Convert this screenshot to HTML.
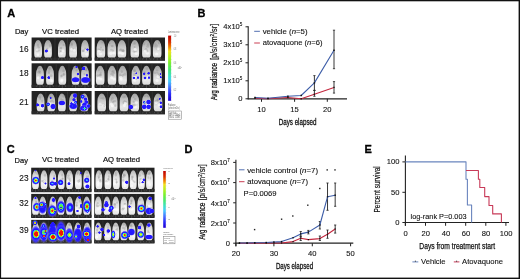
<!DOCTYPE html>
<html><head><meta charset="utf-8"><style>
html,body{margin:0;padding:0;background:#fff;}
svg{display:block;font-family:"Liberation Sans", sans-serif;will-change:transform;}
</style></head><body>
<svg xmlns="http://www.w3.org/2000/svg" width="520" height="279" viewBox="0 0 520 279">
<defs>
<linearGradient id="mg" x1="0" y1="0" x2="0" y2="1">
 <stop offset="0" stop-color="#a0a0a0"/><stop offset="0.35" stop-color="#c4c4c4"/><stop offset="0.75" stop-color="#e8e8e8"/><stop offset="1" stop-color="#dadada"/>
</linearGradient>
<linearGradient id="mg2" x1="0" y1="0" x2="0" y2="1">
 <stop offset="0" stop-color="#b4b4b4"/><stop offset="0.3" stop-color="#dcdcdc"/><stop offset="0.7" stop-color="#f3f3f3"/><stop offset="1" stop-color="#e6e6e6"/>
</linearGradient>
<linearGradient id="cb" x1="0" y1="0" x2="0" y2="1">
 <stop offset="0" stop-color="#c00000"/><stop offset="0.1" stop-color="#d83000"/><stop offset="0.18" stop-color="#f08800"/>
 <stop offset="0.24" stop-color="#f0e020"/><stop offset="0.32" stop-color="#b8f020"/><stop offset="0.42" stop-color="#78f030"/>
 <stop offset="0.52" stop-color="#48e870"/><stop offset="0.62" stop-color="#40e0c8"/><stop offset="0.7" stop-color="#48c8ff"/>
 <stop offset="0.8" stop-color="#4870ff"/><stop offset="0.9" stop-color="#2828f8"/><stop offset="1" stop-color="#2000d0"/>
</linearGradient>

<radialGradient id="hb"><stop offset="0.000" stop-color="#2418ff"/><stop offset="0.700" stop-color="#2418ff"/><stop offset="0.86" stop-color="#2418ff" stop-opacity="0.55"/><stop offset="1" stop-color="#2418ff" stop-opacity="0"/></radialGradient>
<radialGradient id="hc"><stop offset="0.000" stop-color="#30d8ff"/><stop offset="0.210" stop-color="#30c0ff"/><stop offset="0.420" stop-color="#2418ff"/><stop offset="0.700" stop-color="#2418ff"/><stop offset="0.86" stop-color="#2418ff" stop-opacity="0.55"/><stop offset="1" stop-color="#2418ff" stop-opacity="0"/></radialGradient>
<radialGradient id="hg"><stop offset="0.000" stop-color="#58f040"/><stop offset="0.245" stop-color="#30d8ff"/><stop offset="0.455" stop-color="#2418ff"/><stop offset="0.700" stop-color="#2418ff"/><stop offset="0.86" stop-color="#2418ff" stop-opacity="0.55"/><stop offset="1" stop-color="#2418ff" stop-opacity="0"/></radialGradient>
<radialGradient id="hG"><stop offset="0.000" stop-color="#58f040"/><stop offset="0.350" stop-color="#58f040"/><stop offset="0.476" stop-color="#30d8ff"/><stop offset="0.595" stop-color="#2418ff"/><stop offset="0.700" stop-color="#2418ff"/><stop offset="0.86" stop-color="#2418ff" stop-opacity="0.55"/><stop offset="1" stop-color="#2418ff" stop-opacity="0"/></radialGradient>
<radialGradient id="hy"><stop offset="0.000" stop-color="#fff020"/><stop offset="0.196" stop-color="#e0f020"/><stop offset="0.350" stop-color="#58f040"/><stop offset="0.476" stop-color="#30d8ff"/><stop offset="0.595" stop-color="#2418ff"/><stop offset="0.700" stop-color="#2418ff"/><stop offset="0.86" stop-color="#2418ff" stop-opacity="0.55"/><stop offset="1" stop-color="#2418ff" stop-opacity="0"/></radialGradient>
<radialGradient id="hr"><stop offset="0.000" stop-color="#f01808"/><stop offset="0.154" stop-color="#f83010"/><stop offset="0.280" stop-color="#fff020"/><stop offset="0.385" stop-color="#58f040"/><stop offset="0.490" stop-color="#30d8ff"/><stop offset="0.595" stop-color="#2418ff"/><stop offset="0.700" stop-color="#2418ff"/><stop offset="0.86" stop-color="#2418ff" stop-opacity="0.55"/><stop offset="1" stop-color="#2418ff" stop-opacity="0"/></radialGradient>
<radialGradient id="hR"><stop offset="0.000" stop-color="#f01808"/><stop offset="0.336" stop-color="#f01808"/><stop offset="0.420" stop-color="#fff020"/><stop offset="0.504" stop-color="#58f040"/><stop offset="0.574" stop-color="#30d8ff"/><stop offset="0.644" stop-color="#2418ff"/><stop offset="0.700" stop-color="#2418ff"/><stop offset="0.86" stop-color="#2418ff" stop-opacity="0.55"/><stop offset="1" stop-color="#2418ff" stop-opacity="0"/></radialGradient>
<radialGradient id="hh"><stop offset="0" stop-color="#a8a0ff" stop-opacity="0.55"/><stop offset="0.6" stop-color="#b0a8ff" stop-opacity="0.45"/><stop offset="1" stop-color="#c0c0ff" stop-opacity="0"/></radialGradient>
<filter id="bl3" x="-50%" y="-50%" width="200%" height="200%"><feGaussianBlur stdDeviation="0.3"/></filter>
<filter id="bl5" x="-20%" y="-20%" width="140%" height="140%"><feGaussianBlur stdDeviation="0.6"/></filter>
<filter id="bl4" x="-80%" y="-80%" width="260%" height="260%"><feGaussianBlur stdDeviation="0.55"/></filter>
</defs>
<rect x="0" y="0" width="520" height="279" fill="#fff"/>
<rect x="31.6" y="37.5" width="60.00" height="23.30" fill="#222"/>
<rect x="31.6" y="57.60" width="60.00" height="2.6" fill="#2c2c2c" filter="url(#bl5)"/>
<line x1="43.05" y1="38.00" x2="43.05" y2="60.30" stroke="#3a3a3a" stroke-width="0.6"/>
<line x1="54.95" y1="38.00" x2="54.95" y2="60.30" stroke="#3a3a3a" stroke-width="0.6"/>
<line x1="67.50" y1="38.00" x2="67.50" y2="60.30" stroke="#3a3a3a" stroke-width="0.6"/>
<line x1="79.05" y1="38.00" x2="79.05" y2="60.30" stroke="#3a3a3a" stroke-width="0.6"/>
<path d="M38.10,40.00 Q39.82,40.00 40.44,41.76 Q42.00,44.22 42.00,47.39 L42.00,53.73 Q42.00,57.60 40.05,57.60 L36.15,57.60 Q34.20,57.60 34.20,53.73 L34.20,47.39 Q34.20,44.22 35.76,41.76 Q36.38,40.00 38.10,40.00 Z" fill="url(#mg)" filter="url(#bl5)"/>
<ellipse cx="38.70" cy="50.62" rx="1.21" ry="1.03" fill="#888" opacity="0.3" filter="url(#bl5)"/>
<ellipse cx="37.07" cy="50.65" rx="1.01" ry="1.54" fill="#888" opacity="0.3" filter="url(#bl5)"/>
<ellipse cx="37.97" cy="45.13" rx="1.17" ry="1.52" fill="#888" opacity="0.3" filter="url(#bl5)"/>
<ellipse cx="38.76" cy="47.30" rx="1.32" ry="1.15" fill="#888" opacity="0.3" filter="url(#bl5)"/>
<ellipse cx="37.69" cy="50.25" rx="1.23" ry="0.99" fill="#888" opacity="0.3" filter="url(#bl5)"/>
<ellipse cx="37.96" cy="54.79" rx="1.40" ry="1.41" fill="#fff" opacity="0.6" filter="url(#bl5)"/>
<ellipse cx="37.22" cy="50.11" rx="1.40" ry="1.41" fill="#fff" opacity="0.6" filter="url(#bl5)"/>
<path d="M35.37,57.90 L34.59,59.80 M40.83,57.90 L41.61,59.80 M38.10,57.60 L38.10,60.80" stroke="#5a5a5a" stroke-width="0.6" fill="none" filter="url(#bl4)"/>
<path d="M48.00,40.00 Q49.72,40.00 50.34,41.76 Q51.90,44.22 51.90,47.39 L51.90,53.73 Q51.90,57.60 49.95,57.60 L46.05,57.60 Q44.10,57.60 44.10,53.73 L44.10,47.39 Q44.10,44.22 45.66,41.76 Q46.28,40.00 48.00,40.00 Z" fill="url(#mg)" filter="url(#bl5)"/>
<ellipse cx="49.86" cy="45.71" rx="1.07" ry="1.45" fill="#888" opacity="0.3" filter="url(#bl5)"/>
<ellipse cx="47.11" cy="49.15" rx="0.97" ry="1.32" fill="#888" opacity="0.3" filter="url(#bl5)"/>
<ellipse cx="45.76" cy="51.84" rx="1.35" ry="1.16" fill="#888" opacity="0.3" filter="url(#bl5)"/>
<ellipse cx="49.05" cy="49.40" rx="0.85" ry="1.07" fill="#888" opacity="0.3" filter="url(#bl5)"/>
<ellipse cx="48.19" cy="52.10" rx="1.13" ry="1.13" fill="#888" opacity="0.3" filter="url(#bl5)"/>
<ellipse cx="48.46" cy="52.08" rx="1.40" ry="1.41" fill="#fff" opacity="0.6" filter="url(#bl5)"/>
<ellipse cx="49.49" cy="49.71" rx="1.40" ry="1.41" fill="#fff" opacity="0.6" filter="url(#bl5)"/>
<path d="M45.27,57.90 L44.49,59.80 M50.73,57.90 L51.51,59.80 M48.00,57.60 L48.00,60.80" stroke="#5a5a5a" stroke-width="0.6" fill="none" filter="url(#bl4)"/>
<path d="M61.90,40.00 Q63.62,40.00 64.24,41.76 Q65.80,44.22 65.80,47.39 L65.80,53.73 Q65.80,57.60 63.85,57.60 L59.95,57.60 Q58.00,57.60 58.00,53.73 L58.00,47.39 Q58.00,44.22 59.56,41.76 Q60.18,40.00 61.90,40.00 Z" fill="url(#mg)" filter="url(#bl5)"/>
<ellipse cx="60.74" cy="52.26" rx="1.15" ry="1.17" fill="#888" opacity="0.3" filter="url(#bl5)"/>
<ellipse cx="60.50" cy="50.97" rx="1.12" ry="1.02" fill="#888" opacity="0.3" filter="url(#bl5)"/>
<ellipse cx="61.06" cy="47.64" rx="1.23" ry="1.01" fill="#888" opacity="0.3" filter="url(#bl5)"/>
<ellipse cx="63.61" cy="44.92" rx="1.10" ry="1.04" fill="#888" opacity="0.3" filter="url(#bl5)"/>
<ellipse cx="60.69" cy="48.40" rx="1.27" ry="0.91" fill="#888" opacity="0.3" filter="url(#bl5)"/>
<ellipse cx="63.08" cy="50.96" rx="1.40" ry="1.41" fill="#fff" opacity="0.6" filter="url(#bl5)"/>
<ellipse cx="61.33" cy="53.27" rx="1.40" ry="1.41" fill="#fff" opacity="0.6" filter="url(#bl5)"/>
<path d="M59.17,57.90 L58.39,59.80 M64.63,57.90 L65.41,59.80 M61.90,57.60 L61.90,60.80" stroke="#5a5a5a" stroke-width="0.6" fill="none" filter="url(#bl4)"/>
<path d="M73.10,40.00 Q74.82,40.00 75.44,41.76 Q77.00,44.22 77.00,47.39 L77.00,53.73 Q77.00,57.60 75.05,57.60 L71.15,57.60 Q69.20,57.60 69.20,53.73 L69.20,47.39 Q69.20,44.22 70.76,41.76 Q71.38,40.00 73.10,40.00 Z" fill="url(#mg)" filter="url(#bl5)"/>
<ellipse cx="71.54" cy="43.91" rx="1.10" ry="1.10" fill="#888" opacity="0.3" filter="url(#bl5)"/>
<ellipse cx="71.03" cy="42.65" rx="1.32" ry="0.97" fill="#888" opacity="0.3" filter="url(#bl5)"/>
<ellipse cx="71.71" cy="45.13" rx="1.24" ry="1.40" fill="#888" opacity="0.3" filter="url(#bl5)"/>
<ellipse cx="72.34" cy="43.72" rx="0.91" ry="1.08" fill="#888" opacity="0.3" filter="url(#bl5)"/>
<ellipse cx="72.71" cy="48.72" rx="0.98" ry="1.05" fill="#888" opacity="0.3" filter="url(#bl5)"/>
<ellipse cx="74.39" cy="50.39" rx="1.40" ry="1.41" fill="#fff" opacity="0.6" filter="url(#bl5)"/>
<ellipse cx="71.60" cy="49.38" rx="1.40" ry="1.41" fill="#fff" opacity="0.6" filter="url(#bl5)"/>
<path d="M70.37,57.90 L69.59,59.80 M75.83,57.90 L76.61,59.80 M73.10,57.60 L73.10,60.80" stroke="#5a5a5a" stroke-width="0.6" fill="none" filter="url(#bl4)"/>
<path d="M85.00,40.00 Q86.72,40.00 87.34,41.76 Q88.90,44.22 88.90,47.39 L88.90,53.73 Q88.90,57.60 86.95,57.60 L83.05,57.60 Q81.10,57.60 81.10,53.73 L81.10,47.39 Q81.10,44.22 82.66,41.76 Q83.28,40.00 85.00,40.00 Z" fill="url(#mg)" filter="url(#bl5)"/>
<ellipse cx="86.02" cy="49.13" rx="0.89" ry="1.49" fill="#888" opacity="0.3" filter="url(#bl5)"/>
<ellipse cx="85.08" cy="48.81" rx="0.83" ry="1.26" fill="#888" opacity="0.3" filter="url(#bl5)"/>
<ellipse cx="87.02" cy="50.60" rx="1.08" ry="1.44" fill="#888" opacity="0.3" filter="url(#bl5)"/>
<ellipse cx="82.82" cy="51.05" rx="1.02" ry="1.18" fill="#888" opacity="0.3" filter="url(#bl5)"/>
<ellipse cx="83.44" cy="50.63" rx="1.21" ry="1.47" fill="#888" opacity="0.3" filter="url(#bl5)"/>
<ellipse cx="86.28" cy="50.41" rx="1.40" ry="1.41" fill="#fff" opacity="0.6" filter="url(#bl5)"/>
<ellipse cx="86.77" cy="54.43" rx="1.40" ry="1.41" fill="#fff" opacity="0.6" filter="url(#bl5)"/>
<path d="M82.27,57.90 L81.49,59.80 M87.73,57.90 L88.51,59.80 M85.00,57.60 L85.00,60.80" stroke="#5a5a5a" stroke-width="0.6" fill="none" filter="url(#bl4)"/>
<rect x="94.7" y="37.5" width="70.30" height="23.30" fill="#222"/>
<rect x="94.7" y="57.60" width="70.30" height="2.6" fill="#2c2c2c" filter="url(#bl5)"/>
<line x1="106.35" y1="38.00" x2="106.35" y2="60.30" stroke="#3a3a3a" stroke-width="0.6"/>
<line x1="116.85" y1="38.00" x2="116.85" y2="60.30" stroke="#3a3a3a" stroke-width="0.6"/>
<line x1="128.35" y1="38.00" x2="128.35" y2="60.30" stroke="#3a3a3a" stroke-width="0.6"/>
<line x1="140.60" y1="38.00" x2="140.60" y2="60.30" stroke="#3a3a3a" stroke-width="0.6"/>
<line x1="151.80" y1="38.00" x2="151.80" y2="60.30" stroke="#3a3a3a" stroke-width="0.6"/>
<path d="M100.90,40.00 Q102.79,40.00 103.48,41.76 Q105.20,44.22 105.20,47.39 L105.20,53.73 Q105.20,57.60 103.05,57.60 L98.75,57.60 Q96.60,57.60 96.60,53.73 L96.60,47.39 Q96.60,44.22 98.32,41.76 Q99.01,40.00 100.90,40.00 Z" fill="url(#mg)" filter="url(#bl5)"/>
<ellipse cx="102.85" cy="49.97" rx="1.09" ry="1.23" fill="#888" opacity="0.3" filter="url(#bl5)"/>
<ellipse cx="98.43" cy="49.22" rx="1.27" ry="1.06" fill="#888" opacity="0.3" filter="url(#bl5)"/>
<ellipse cx="100.36" cy="49.62" rx="1.31" ry="1.13" fill="#888" opacity="0.3" filter="url(#bl5)"/>
<ellipse cx="102.81" cy="42.25" rx="1.48" ry="1.23" fill="#888" opacity="0.3" filter="url(#bl5)"/>
<ellipse cx="101.00" cy="47.43" rx="0.88" ry="0.97" fill="#888" opacity="0.3" filter="url(#bl5)"/>
<ellipse cx="99.01" cy="51.32" rx="1.55" ry="1.41" fill="#fff" opacity="0.6" filter="url(#bl5)"/>
<ellipse cx="100.54" cy="54.06" rx="1.55" ry="1.41" fill="#fff" opacity="0.6" filter="url(#bl5)"/>
<path d="M97.89,57.90 L97.03,59.80 M103.91,57.90 L104.77,59.80 M100.90,57.60 L100.90,60.80" stroke="#5a5a5a" stroke-width="0.6" fill="none" filter="url(#bl4)"/>
<path d="M111.80,40.00 Q113.69,40.00 114.38,41.76 Q116.10,44.22 116.10,47.39 L116.10,53.73 Q116.10,57.60 113.95,57.60 L109.65,57.60 Q107.50,57.60 107.50,53.73 L107.50,47.39 Q107.50,44.22 109.22,41.76 Q109.91,40.00 111.80,40.00 Z" fill="url(#mg)" filter="url(#bl5)"/>
<ellipse cx="109.49" cy="43.40" rx="1.04" ry="0.92" fill="#888" opacity="0.3" filter="url(#bl5)"/>
<ellipse cx="112.05" cy="45.65" rx="1.58" ry="0.97" fill="#888" opacity="0.3" filter="url(#bl5)"/>
<ellipse cx="112.31" cy="46.31" rx="1.35" ry="0.90" fill="#888" opacity="0.3" filter="url(#bl5)"/>
<ellipse cx="113.11" cy="50.82" rx="0.91" ry="1.24" fill="#888" opacity="0.3" filter="url(#bl5)"/>
<ellipse cx="111.39" cy="49.70" rx="1.34" ry="1.05" fill="#888" opacity="0.3" filter="url(#bl5)"/>
<ellipse cx="113.77" cy="52.98" rx="1.55" ry="1.41" fill="#fff" opacity="0.6" filter="url(#bl5)"/>
<ellipse cx="110.74" cy="53.52" rx="1.55" ry="1.41" fill="#fff" opacity="0.6" filter="url(#bl5)"/>
<path d="M108.79,57.90 L107.93,59.80 M114.81,57.90 L115.67,59.80 M111.80,57.60 L111.80,60.80" stroke="#5a5a5a" stroke-width="0.6" fill="none" filter="url(#bl4)"/>
<path d="M121.90,40.00 Q123.79,40.00 124.48,41.76 Q126.20,44.22 126.20,47.39 L126.20,53.73 Q126.20,57.60 124.05,57.60 L119.75,57.60 Q117.60,57.60 117.60,53.73 L117.60,47.39 Q117.60,44.22 119.32,41.76 Q120.01,40.00 121.90,40.00 Z" fill="url(#mg)" filter="url(#bl5)"/>
<ellipse cx="120.15" cy="50.37" rx="1.17" ry="1.48" fill="#888" opacity="0.3" filter="url(#bl5)"/>
<ellipse cx="123.42" cy="50.83" rx="1.47" ry="1.32" fill="#888" opacity="0.3" filter="url(#bl5)"/>
<ellipse cx="122.68" cy="50.25" rx="1.58" ry="1.43" fill="#888" opacity="0.3" filter="url(#bl5)"/>
<ellipse cx="120.85" cy="49.47" rx="1.21" ry="1.12" fill="#888" opacity="0.3" filter="url(#bl5)"/>
<ellipse cx="122.80" cy="51.05" rx="1.55" ry="1.20" fill="#888" opacity="0.3" filter="url(#bl5)"/>
<ellipse cx="122.49" cy="53.78" rx="1.55" ry="1.41" fill="#fff" opacity="0.6" filter="url(#bl5)"/>
<ellipse cx="119.97" cy="52.94" rx="1.55" ry="1.41" fill="#fff" opacity="0.6" filter="url(#bl5)"/>
<path d="M118.89,57.90 L118.03,59.80 M124.91,57.90 L125.77,59.80 M121.90,57.60 L121.90,60.80" stroke="#5a5a5a" stroke-width="0.6" fill="none" filter="url(#bl4)"/>
<path d="M134.80,40.00 Q136.69,40.00 137.38,41.76 Q139.10,44.22 139.10,47.39 L139.10,53.73 Q139.10,57.60 136.95,57.60 L132.65,57.60 Q130.50,57.60 130.50,53.73 L130.50,47.39 Q130.50,44.22 132.22,41.76 Q132.91,40.00 134.80,40.00 Z" fill="url(#mg)" filter="url(#bl5)"/>
<ellipse cx="134.49" cy="43.77" rx="1.46" ry="1.07" fill="#888" opacity="0.3" filter="url(#bl5)"/>
<ellipse cx="133.95" cy="51.56" rx="1.50" ry="1.13" fill="#888" opacity="0.3" filter="url(#bl5)"/>
<ellipse cx="135.68" cy="51.78" rx="1.59" ry="0.89" fill="#888" opacity="0.3" filter="url(#bl5)"/>
<ellipse cx="134.72" cy="42.64" rx="0.93" ry="0.93" fill="#888" opacity="0.3" filter="url(#bl5)"/>
<ellipse cx="134.55" cy="47.05" rx="1.01" ry="1.00" fill="#888" opacity="0.3" filter="url(#bl5)"/>
<ellipse cx="136.23" cy="53.70" rx="1.55" ry="1.41" fill="#fff" opacity="0.6" filter="url(#bl5)"/>
<ellipse cx="135.18" cy="49.45" rx="1.55" ry="1.41" fill="#fff" opacity="0.6" filter="url(#bl5)"/>
<path d="M131.79,57.90 L130.93,59.80 M137.81,57.90 L138.67,59.80 M134.80,57.60 L134.80,60.80" stroke="#5a5a5a" stroke-width="0.6" fill="none" filter="url(#bl4)"/>
<path d="M146.40,40.00 Q148.29,40.00 148.98,41.76 Q150.70,44.22 150.70,47.39 L150.70,53.73 Q150.70,57.60 148.55,57.60 L144.25,57.60 Q142.10,57.60 142.10,53.73 L142.10,47.39 Q142.10,44.22 143.82,41.76 Q144.51,40.00 146.40,40.00 Z" fill="url(#mg)" filter="url(#bl5)"/>
<ellipse cx="147.61" cy="46.49" rx="1.56" ry="1.26" fill="#888" opacity="0.3" filter="url(#bl5)"/>
<ellipse cx="146.01" cy="49.29" rx="1.42" ry="1.55" fill="#888" opacity="0.3" filter="url(#bl5)"/>
<ellipse cx="148.31" cy="44.61" rx="1.55" ry="1.24" fill="#888" opacity="0.3" filter="url(#bl5)"/>
<ellipse cx="147.22" cy="51.41" rx="1.08" ry="1.55" fill="#888" opacity="0.3" filter="url(#bl5)"/>
<ellipse cx="144.10" cy="43.79" rx="1.15" ry="1.55" fill="#888" opacity="0.3" filter="url(#bl5)"/>
<ellipse cx="147.34" cy="53.28" rx="1.55" ry="1.41" fill="#fff" opacity="0.6" filter="url(#bl5)"/>
<ellipse cx="145.37" cy="51.23" rx="1.55" ry="1.41" fill="#fff" opacity="0.6" filter="url(#bl5)"/>
<path d="M143.39,57.90 L142.53,59.80 M149.41,57.90 L150.27,59.80 M146.40,57.60 L146.40,60.80" stroke="#5a5a5a" stroke-width="0.6" fill="none" filter="url(#bl4)"/>
<path d="M157.20,40.00 Q159.09,40.00 159.78,41.76 Q161.50,44.22 161.50,47.39 L161.50,53.73 Q161.50,57.60 159.35,57.60 L155.05,57.60 Q152.90,57.60 152.90,53.73 L152.90,47.39 Q152.90,44.22 154.62,41.76 Q155.31,40.00 157.20,40.00 Z" fill="url(#mg)" filter="url(#bl5)"/>
<ellipse cx="156.98" cy="48.49" rx="1.18" ry="1.26" fill="#888" opacity="0.3" filter="url(#bl5)"/>
<ellipse cx="155.12" cy="44.22" rx="1.55" ry="1.33" fill="#888" opacity="0.3" filter="url(#bl5)"/>
<ellipse cx="156.74" cy="45.80" rx="1.34" ry="1.25" fill="#888" opacity="0.3" filter="url(#bl5)"/>
<ellipse cx="158.81" cy="42.97" rx="0.88" ry="1.25" fill="#888" opacity="0.3" filter="url(#bl5)"/>
<ellipse cx="154.70" cy="46.39" rx="1.67" ry="1.17" fill="#888" opacity="0.3" filter="url(#bl5)"/>
<ellipse cx="158.09" cy="48.81" rx="1.55" ry="1.41" fill="#fff" opacity="0.6" filter="url(#bl5)"/>
<ellipse cx="156.66" cy="54.21" rx="1.55" ry="1.41" fill="#fff" opacity="0.6" filter="url(#bl5)"/>
<path d="M154.19,57.90 L153.33,59.80 M160.21,57.90 L161.07,59.80 M157.20,57.60 L157.20,60.80" stroke="#5a5a5a" stroke-width="0.6" fill="none" filter="url(#bl4)"/>
<rect x="31.6" y="63.3" width="60.00" height="24.70" fill="#222"/>
<rect x="31.6" y="84.80" width="60.00" height="2.6" fill="#2c2c2c" filter="url(#bl5)"/>
<line x1="45.00" y1="63.80" x2="45.00" y2="87.50" stroke="#3a3a3a" stroke-width="0.6"/>
<line x1="56.15" y1="63.80" x2="56.15" y2="87.50" stroke="#3a3a3a" stroke-width="0.6"/>
<line x1="68.95" y1="63.80" x2="68.95" y2="87.50" stroke="#3a3a3a" stroke-width="0.6"/>
<line x1="80.30" y1="63.80" x2="80.30" y2="87.50" stroke="#3a3a3a" stroke-width="0.6"/>
<path d="M40.00,65.80 Q41.72,65.80 42.34,67.70 Q43.90,70.36 43.90,73.78 L43.90,80.62 Q43.90,84.80 41.95,84.80 L38.05,84.80 Q36.10,84.80 36.10,80.62 L36.10,73.78 Q36.10,70.36 37.66,67.70 Q38.28,65.80 40.00,65.80 Z" fill="url(#mg)" filter="url(#bl5)"/>
<ellipse cx="40.07" cy="72.53" rx="1.23" ry="1.42" fill="#888" opacity="0.3" filter="url(#bl5)"/>
<ellipse cx="41.51" cy="78.98" rx="1.07" ry="1.60" fill="#888" opacity="0.3" filter="url(#bl5)"/>
<ellipse cx="39.45" cy="71.14" rx="1.28" ry="1.51" fill="#888" opacity="0.3" filter="url(#bl5)"/>
<ellipse cx="38.38" cy="68.18" rx="1.19" ry="1.27" fill="#888" opacity="0.3" filter="url(#bl5)"/>
<ellipse cx="38.53" cy="72.20" rx="1.39" ry="1.43" fill="#888" opacity="0.3" filter="url(#bl5)"/>
<ellipse cx="41.78" cy="79.62" rx="1.40" ry="1.52" fill="#fff" opacity="0.6" filter="url(#bl5)"/>
<ellipse cx="38.18" cy="77.83" rx="1.40" ry="1.52" fill="#fff" opacity="0.6" filter="url(#bl5)"/>
<path d="M37.27,85.10 L36.49,87.00 M42.73,85.10 L43.51,87.00 M40.00,84.80 L40.00,88.00" stroke="#5a5a5a" stroke-width="0.6" fill="none" filter="url(#bl4)"/>
<path d="M50.00,65.80 Q51.72,65.80 52.34,67.70 Q53.90,70.36 53.90,73.78 L53.90,80.62 Q53.90,84.80 51.95,84.80 L48.05,84.80 Q46.10,84.80 46.10,80.62 L46.10,73.78 Q46.10,70.36 47.66,67.70 Q48.28,65.80 50.00,65.80 Z" fill="url(#mg)" filter="url(#bl5)"/>
<ellipse cx="48.93" cy="71.38" rx="1.18" ry="1.31" fill="#888" opacity="0.3" filter="url(#bl5)"/>
<ellipse cx="49.16" cy="68.22" rx="1.20" ry="1.64" fill="#888" opacity="0.3" filter="url(#bl5)"/>
<ellipse cx="48.85" cy="73.14" rx="1.24" ry="1.10" fill="#888" opacity="0.3" filter="url(#bl5)"/>
<ellipse cx="49.73" cy="69.09" rx="1.08" ry="1.48" fill="#888" opacity="0.3" filter="url(#bl5)"/>
<ellipse cx="51.09" cy="75.65" rx="1.54" ry="1.52" fill="#888" opacity="0.3" filter="url(#bl5)"/>
<ellipse cx="51.95" cy="80.96" rx="1.40" ry="1.52" fill="#fff" opacity="0.6" filter="url(#bl5)"/>
<ellipse cx="51.18" cy="80.55" rx="1.40" ry="1.52" fill="#fff" opacity="0.6" filter="url(#bl5)"/>
<path d="M47.27,85.10 L46.49,87.00 M52.73,85.10 L53.51,87.00 M50.00,84.80 L50.00,88.00" stroke="#5a5a5a" stroke-width="0.6" fill="none" filter="url(#bl4)"/>
<path d="M62.30,65.80 Q64.02,65.80 64.64,67.70 Q66.20,70.36 66.20,73.78 L66.20,80.62 Q66.20,84.80 64.25,84.80 L60.35,84.80 Q58.40,84.80 58.40,80.62 L58.40,73.78 Q58.40,70.36 59.96,67.70 Q60.58,65.80 62.30,65.80 Z" fill="url(#mg)" filter="url(#bl5)"/>
<ellipse cx="62.05" cy="75.69" rx="1.13" ry="1.17" fill="#888" opacity="0.3" filter="url(#bl5)"/>
<ellipse cx="63.95" cy="74.46" rx="1.53" ry="1.11" fill="#888" opacity="0.3" filter="url(#bl5)"/>
<ellipse cx="63.68" cy="74.48" rx="0.78" ry="1.63" fill="#888" opacity="0.3" filter="url(#bl5)"/>
<ellipse cx="63.44" cy="70.77" rx="1.19" ry="1.53" fill="#888" opacity="0.3" filter="url(#bl5)"/>
<ellipse cx="61.07" cy="76.04" rx="1.07" ry="1.52" fill="#888" opacity="0.3" filter="url(#bl5)"/>
<ellipse cx="61.97" cy="79.94" rx="1.40" ry="1.52" fill="#fff" opacity="0.6" filter="url(#bl5)"/>
<ellipse cx="61.49" cy="81.12" rx="1.40" ry="1.52" fill="#fff" opacity="0.6" filter="url(#bl5)"/>
<path d="M59.57,85.10 L58.79,87.00 M65.03,85.10 L65.81,87.00 M62.30,84.80 L62.30,88.00" stroke="#5a5a5a" stroke-width="0.6" fill="none" filter="url(#bl4)"/>
<path d="M75.60,65.80 Q77.32,65.80 77.94,67.70 Q79.50,70.36 79.50,73.78 L79.50,80.62 Q79.50,84.80 77.55,84.80 L73.65,84.80 Q71.70,84.80 71.70,80.62 L71.70,73.78 Q71.70,70.36 73.26,67.70 Q73.88,65.80 75.60,65.80 Z" fill="url(#mg)" filter="url(#bl5)"/>
<ellipse cx="76.46" cy="70.16" rx="1.02" ry="1.23" fill="#888" opacity="0.3" filter="url(#bl5)"/>
<ellipse cx="75.14" cy="78.17" rx="1.45" ry="1.57" fill="#888" opacity="0.3" filter="url(#bl5)"/>
<ellipse cx="74.20" cy="67.83" rx="1.51" ry="1.29" fill="#888" opacity="0.3" filter="url(#bl5)"/>
<ellipse cx="74.50" cy="78.67" rx="0.89" ry="1.63" fill="#888" opacity="0.3" filter="url(#bl5)"/>
<ellipse cx="77.44" cy="74.35" rx="0.80" ry="1.57" fill="#888" opacity="0.3" filter="url(#bl5)"/>
<ellipse cx="77.06" cy="81.61" rx="1.40" ry="1.52" fill="#fff" opacity="0.6" filter="url(#bl5)"/>
<ellipse cx="76.59" cy="81.46" rx="1.40" ry="1.52" fill="#fff" opacity="0.6" filter="url(#bl5)"/>
<path d="M72.87,85.10 L72.09,87.00 M78.33,85.10 L79.11,87.00 M75.60,84.80 L75.60,88.00" stroke="#5a5a5a" stroke-width="0.6" fill="none" filter="url(#bl4)"/>
<path d="M85.00,65.80 Q86.72,65.80 87.34,67.70 Q88.90,70.36 88.90,73.78 L88.90,80.62 Q88.90,84.80 86.95,84.80 L83.05,84.80 Q81.10,84.80 81.10,80.62 L81.10,73.78 Q81.10,70.36 82.66,67.70 Q83.28,65.80 85.00,65.80 Z" fill="url(#mg)" filter="url(#bl5)"/>
<ellipse cx="85.65" cy="69.21" rx="1.35" ry="0.98" fill="#888" opacity="0.3" filter="url(#bl5)"/>
<ellipse cx="86.96" cy="74.56" rx="1.12" ry="1.05" fill="#888" opacity="0.3" filter="url(#bl5)"/>
<ellipse cx="86.58" cy="70.55" rx="0.99" ry="1.01" fill="#888" opacity="0.3" filter="url(#bl5)"/>
<ellipse cx="85.71" cy="69.46" rx="1.39" ry="1.48" fill="#888" opacity="0.3" filter="url(#bl5)"/>
<ellipse cx="84.32" cy="74.12" rx="0.95" ry="1.16" fill="#888" opacity="0.3" filter="url(#bl5)"/>
<ellipse cx="85.74" cy="79.82" rx="1.40" ry="1.52" fill="#fff" opacity="0.6" filter="url(#bl5)"/>
<ellipse cx="85.62" cy="77.07" rx="1.40" ry="1.52" fill="#fff" opacity="0.6" filter="url(#bl5)"/>
<path d="M82.27,85.10 L81.49,87.00 M87.73,85.10 L88.51,87.00 M85.00,84.80 L85.00,88.00" stroke="#5a5a5a" stroke-width="0.6" fill="none" filter="url(#bl4)"/>
<rect x="94.7" y="63.3" width="70.30" height="24.70" fill="#222"/>
<rect x="94.7" y="84.80" width="70.30" height="2.6" fill="#2c2c2c" filter="url(#bl5)"/>
<line x1="106.10" y1="63.80" x2="106.10" y2="87.50" stroke="#3a3a3a" stroke-width="0.6"/>
<line x1="117.30" y1="63.80" x2="117.30" y2="87.50" stroke="#3a3a3a" stroke-width="0.6"/>
<line x1="129.25" y1="63.80" x2="129.25" y2="87.50" stroke="#3a3a3a" stroke-width="0.6"/>
<line x1="141.15" y1="63.80" x2="141.15" y2="87.50" stroke="#3a3a3a" stroke-width="0.6"/>
<line x1="151.95" y1="63.80" x2="151.95" y2="87.50" stroke="#3a3a3a" stroke-width="0.6"/>
<path d="M100.20,65.80 Q102.09,65.80 102.78,67.70 Q104.50,70.36 104.50,73.78 L104.50,80.62 Q104.50,84.80 102.35,84.80 L98.05,84.80 Q95.90,84.80 95.90,80.62 L95.90,73.78 Q95.90,70.36 97.62,67.70 Q98.31,65.80 100.20,65.80 Z" fill="url(#mg)" filter="url(#bl5)"/>
<ellipse cx="100.43" cy="74.96" rx="1.39" ry="1.11" fill="#888" opacity="0.3" filter="url(#bl5)"/>
<ellipse cx="98.90" cy="69.70" rx="0.90" ry="1.52" fill="#888" opacity="0.3" filter="url(#bl5)"/>
<ellipse cx="100.73" cy="73.10" rx="1.07" ry="1.58" fill="#888" opacity="0.3" filter="url(#bl5)"/>
<ellipse cx="97.67" cy="75.47" rx="1.62" ry="1.20" fill="#888" opacity="0.3" filter="url(#bl5)"/>
<ellipse cx="100.13" cy="75.18" rx="1.48" ry="1.37" fill="#888" opacity="0.3" filter="url(#bl5)"/>
<ellipse cx="100.87" cy="79.01" rx="1.55" ry="1.52" fill="#fff" opacity="0.6" filter="url(#bl5)"/>
<ellipse cx="98.55" cy="78.18" rx="1.55" ry="1.52" fill="#fff" opacity="0.6" filter="url(#bl5)"/>
<path d="M97.19,85.10 L96.33,87.00 M103.21,85.10 L104.07,87.00 M100.20,84.80 L100.20,88.00" stroke="#5a5a5a" stroke-width="0.6" fill="none" filter="url(#bl4)"/>
<path d="M112.00,65.80 Q113.89,65.80 114.58,67.70 Q116.30,70.36 116.30,73.78 L116.30,80.62 Q116.30,84.80 114.15,84.80 L109.85,84.80 Q107.70,84.80 107.70,80.62 L107.70,73.78 Q107.70,70.36 109.42,67.70 Q110.11,65.80 112.00,65.80 Z" fill="url(#mg)" filter="url(#bl5)"/>
<ellipse cx="114.07" cy="72.99" rx="1.24" ry="1.02" fill="#888" opacity="0.3" filter="url(#bl5)"/>
<ellipse cx="111.36" cy="74.13" rx="1.23" ry="1.09" fill="#888" opacity="0.3" filter="url(#bl5)"/>
<ellipse cx="113.28" cy="71.25" rx="1.31" ry="1.24" fill="#888" opacity="0.3" filter="url(#bl5)"/>
<ellipse cx="112.42" cy="72.07" rx="1.35" ry="1.62" fill="#888" opacity="0.3" filter="url(#bl5)"/>
<ellipse cx="112.92" cy="74.98" rx="1.18" ry="1.45" fill="#888" opacity="0.3" filter="url(#bl5)"/>
<ellipse cx="114.06" cy="79.09" rx="1.55" ry="1.52" fill="#fff" opacity="0.6" filter="url(#bl5)"/>
<ellipse cx="111.71" cy="77.83" rx="1.55" ry="1.52" fill="#fff" opacity="0.6" filter="url(#bl5)"/>
<path d="M108.99,85.10 L108.13,87.00 M115.01,85.10 L115.87,87.00 M112.00,84.80 L112.00,88.00" stroke="#5a5a5a" stroke-width="0.6" fill="none" filter="url(#bl4)"/>
<path d="M122.60,65.80 Q124.49,65.80 125.18,67.70 Q126.90,70.36 126.90,73.78 L126.90,80.62 Q126.90,84.80 124.75,84.80 L120.45,84.80 Q118.30,84.80 118.30,80.62 L118.30,73.78 Q118.30,70.36 120.02,67.70 Q120.71,65.80 122.60,65.80 Z" fill="url(#mg)" filter="url(#bl5)"/>
<ellipse cx="124.96" cy="74.18" rx="1.65" ry="1.62" fill="#888" opacity="0.3" filter="url(#bl5)"/>
<ellipse cx="122.87" cy="75.36" rx="1.14" ry="1.27" fill="#888" opacity="0.3" filter="url(#bl5)"/>
<ellipse cx="121.84" cy="71.67" rx="1.20" ry="1.40" fill="#888" opacity="0.3" filter="url(#bl5)"/>
<ellipse cx="121.09" cy="76.27" rx="1.30" ry="1.52" fill="#888" opacity="0.3" filter="url(#bl5)"/>
<ellipse cx="120.14" cy="74.86" rx="1.30" ry="1.43" fill="#888" opacity="0.3" filter="url(#bl5)"/>
<ellipse cx="121.14" cy="79.11" rx="1.55" ry="1.52" fill="#fff" opacity="0.6" filter="url(#bl5)"/>
<ellipse cx="120.77" cy="77.30" rx="1.55" ry="1.52" fill="#fff" opacity="0.6" filter="url(#bl5)"/>
<path d="M119.59,85.10 L118.73,87.00 M125.61,85.10 L126.47,87.00 M122.60,84.80 L122.60,88.00" stroke="#5a5a5a" stroke-width="0.6" fill="none" filter="url(#bl4)"/>
<path d="M135.90,65.80 Q137.79,65.80 138.48,67.70 Q140.20,70.36 140.20,73.78 L140.20,80.62 Q140.20,84.80 138.05,84.80 L133.75,84.80 Q131.60,84.80 131.60,80.62 L131.60,73.78 Q131.60,70.36 133.32,67.70 Q134.01,65.80 135.90,65.80 Z" fill="url(#mg)" filter="url(#bl5)"/>
<ellipse cx="136.04" cy="78.37" rx="0.88" ry="1.31" fill="#888" opacity="0.3" filter="url(#bl5)"/>
<ellipse cx="134.59" cy="70.91" rx="1.50" ry="1.18" fill="#888" opacity="0.3" filter="url(#bl5)"/>
<ellipse cx="134.60" cy="70.12" rx="1.34" ry="1.65" fill="#888" opacity="0.3" filter="url(#bl5)"/>
<ellipse cx="135.84" cy="79.03" rx="0.96" ry="1.48" fill="#888" opacity="0.3" filter="url(#bl5)"/>
<ellipse cx="134.38" cy="74.65" rx="1.40" ry="1.31" fill="#888" opacity="0.3" filter="url(#bl5)"/>
<ellipse cx="134.75" cy="80.25" rx="1.55" ry="1.52" fill="#fff" opacity="0.6" filter="url(#bl5)"/>
<ellipse cx="135.20" cy="77.42" rx="1.55" ry="1.52" fill="#fff" opacity="0.6" filter="url(#bl5)"/>
<path d="M132.89,85.10 L132.03,87.00 M138.91,85.10 L139.77,87.00 M135.90,84.80 L135.90,88.00" stroke="#5a5a5a" stroke-width="0.6" fill="none" filter="url(#bl4)"/>
<path d="M146.40,65.80 Q148.29,65.80 148.98,67.70 Q150.70,70.36 150.70,73.78 L150.70,80.62 Q150.70,84.80 148.55,84.80 L144.25,84.80 Q142.10,84.80 142.10,80.62 L142.10,73.78 Q142.10,70.36 143.82,67.70 Q144.51,65.80 146.40,65.80 Z" fill="url(#mg)" filter="url(#bl5)"/>
<ellipse cx="144.52" cy="74.41" rx="1.20" ry="1.35" fill="#888" opacity="0.3" filter="url(#bl5)"/>
<ellipse cx="146.89" cy="68.81" rx="1.40" ry="1.34" fill="#888" opacity="0.3" filter="url(#bl5)"/>
<ellipse cx="148.71" cy="73.36" rx="1.39" ry="1.18" fill="#888" opacity="0.3" filter="url(#bl5)"/>
<ellipse cx="144.55" cy="72.37" rx="1.30" ry="1.52" fill="#888" opacity="0.3" filter="url(#bl5)"/>
<ellipse cx="148.78" cy="74.08" rx="1.44" ry="1.47" fill="#888" opacity="0.3" filter="url(#bl5)"/>
<ellipse cx="148.40" cy="76.92" rx="1.55" ry="1.52" fill="#fff" opacity="0.6" filter="url(#bl5)"/>
<ellipse cx="145.19" cy="78.86" rx="1.55" ry="1.52" fill="#fff" opacity="0.6" filter="url(#bl5)"/>
<path d="M143.39,85.10 L142.53,87.00 M149.41,85.10 L150.27,87.00 M146.40,84.80 L146.40,88.00" stroke="#5a5a5a" stroke-width="0.6" fill="none" filter="url(#bl4)"/>
<path d="M157.50,65.80 Q159.39,65.80 160.08,67.70 Q161.80,70.36 161.80,73.78 L161.80,80.62 Q161.80,84.80 159.65,84.80 L155.35,84.80 Q153.20,84.80 153.20,80.62 L153.20,73.78 Q153.20,70.36 154.92,67.70 Q155.61,65.80 157.50,65.80 Z" fill="url(#mg)" filter="url(#bl5)"/>
<ellipse cx="157.41" cy="72.86" rx="1.16" ry="1.07" fill="#888" opacity="0.3" filter="url(#bl5)"/>
<ellipse cx="157.08" cy="70.39" rx="1.32" ry="1.10" fill="#888" opacity="0.3" filter="url(#bl5)"/>
<ellipse cx="154.95" cy="72.81" rx="1.55" ry="1.39" fill="#888" opacity="0.3" filter="url(#bl5)"/>
<ellipse cx="159.00" cy="75.78" rx="1.30" ry="1.23" fill="#888" opacity="0.3" filter="url(#bl5)"/>
<ellipse cx="159.20" cy="74.39" rx="1.39" ry="1.63" fill="#888" opacity="0.3" filter="url(#bl5)"/>
<ellipse cx="157.15" cy="80.45" rx="1.55" ry="1.52" fill="#fff" opacity="0.6" filter="url(#bl5)"/>
<ellipse cx="158.05" cy="76.43" rx="1.55" ry="1.52" fill="#fff" opacity="0.6" filter="url(#bl5)"/>
<path d="M154.49,85.10 L153.63,87.00 M160.51,85.10 L161.37,87.00 M157.50,84.80 L157.50,88.00" stroke="#5a5a5a" stroke-width="0.6" fill="none" filter="url(#bl4)"/>
<rect x="31.6" y="91.0" width="60.00" height="23.40" fill="#222"/>
<rect x="31.6" y="111.20" width="60.00" height="2.6" fill="#2c2c2c" filter="url(#bl5)"/>
<line x1="45.92" y1="91.50" x2="45.92" y2="113.90" stroke="#3a3a3a" stroke-width="0.6"/>
<line x1="56.58" y1="91.50" x2="56.58" y2="113.90" stroke="#3a3a3a" stroke-width="0.6"/>
<line x1="67.50" y1="91.50" x2="67.50" y2="113.90" stroke="#3a3a3a" stroke-width="0.6"/>
<line x1="78.75" y1="91.50" x2="78.75" y2="113.90" stroke="#3a3a3a" stroke-width="0.6"/>
<path d="M40.60,93.50 Q42.32,93.50 42.94,95.27 Q44.50,97.75 44.50,100.93 L44.50,107.31 Q44.50,111.20 42.55,111.20 L38.65,111.20 Q36.70,111.20 36.70,107.31 L36.70,100.93 Q36.70,97.75 38.26,95.27 Q38.88,93.50 40.60,93.50 Z" fill="url(#mg)" filter="url(#bl5)"/>
<ellipse cx="40.22" cy="98.71" rx="0.87" ry="1.38" fill="#888" opacity="0.3" filter="url(#bl5)"/>
<ellipse cx="42.13" cy="101.85" rx="0.99" ry="0.93" fill="#888" opacity="0.3" filter="url(#bl5)"/>
<ellipse cx="39.83" cy="96.96" rx="1.51" ry="1.19" fill="#888" opacity="0.3" filter="url(#bl5)"/>
<ellipse cx="42.10" cy="100.31" rx="1.00" ry="0.93" fill="#888" opacity="0.3" filter="url(#bl5)"/>
<ellipse cx="39.78" cy="105.46" rx="0.85" ry="1.45" fill="#888" opacity="0.3" filter="url(#bl5)"/>
<ellipse cx="41.30" cy="105.98" rx="1.40" ry="1.42" fill="#fff" opacity="0.6" filter="url(#bl5)"/>
<ellipse cx="41.91" cy="107.49" rx="1.40" ry="1.42" fill="#fff" opacity="0.6" filter="url(#bl5)"/>
<path d="M37.87,111.50 L37.09,113.40 M43.33,111.50 L44.11,113.40 M40.60,111.20 L40.60,114.40" stroke="#5a5a5a" stroke-width="0.6" fill="none" filter="url(#bl4)"/>
<path d="M51.25,93.50 Q52.97,93.50 53.59,95.27 Q55.15,97.75 55.15,100.93 L55.15,107.31 Q55.15,111.20 53.20,111.20 L49.30,111.20 Q47.35,111.20 47.35,107.31 L47.35,100.93 Q47.35,97.75 48.91,95.27 Q49.53,93.50 51.25,93.50 Z" fill="url(#mg)" filter="url(#bl5)"/>
<ellipse cx="50.53" cy="101.68" rx="0.89" ry="0.89" fill="#888" opacity="0.3" filter="url(#bl5)"/>
<ellipse cx="51.34" cy="97.51" rx="1.35" ry="0.90" fill="#888" opacity="0.3" filter="url(#bl5)"/>
<ellipse cx="49.66" cy="96.70" rx="1.39" ry="1.37" fill="#888" opacity="0.3" filter="url(#bl5)"/>
<ellipse cx="52.04" cy="100.86" rx="1.08" ry="1.16" fill="#888" opacity="0.3" filter="url(#bl5)"/>
<ellipse cx="53.51" cy="101.78" rx="0.82" ry="1.11" fill="#888" opacity="0.3" filter="url(#bl5)"/>
<ellipse cx="53.09" cy="105.43" rx="1.40" ry="1.42" fill="#fff" opacity="0.6" filter="url(#bl5)"/>
<ellipse cx="49.73" cy="103.79" rx="1.40" ry="1.42" fill="#fff" opacity="0.6" filter="url(#bl5)"/>
<path d="M48.52,111.50 L47.74,113.40 M53.98,111.50 L54.76,113.40 M51.25,111.20 L51.25,114.40" stroke="#5a5a5a" stroke-width="0.6" fill="none" filter="url(#bl4)"/>
<path d="M61.90,93.50 Q63.62,93.50 64.24,95.27 Q65.80,97.75 65.80,100.93 L65.80,107.31 Q65.80,111.20 63.85,111.20 L59.95,111.20 Q58.00,111.20 58.00,107.31 L58.00,100.93 Q58.00,97.75 59.56,95.27 Q60.18,93.50 61.90,93.50 Z" fill="url(#mg)" filter="url(#bl5)"/>
<ellipse cx="62.13" cy="100.53" rx="1.13" ry="1.37" fill="#888" opacity="0.3" filter="url(#bl5)"/>
<ellipse cx="61.10" cy="99.43" rx="1.22" ry="1.50" fill="#888" opacity="0.3" filter="url(#bl5)"/>
<ellipse cx="63.95" cy="96.16" rx="1.48" ry="1.48" fill="#888" opacity="0.3" filter="url(#bl5)"/>
<ellipse cx="60.08" cy="102.62" rx="1.39" ry="1.11" fill="#888" opacity="0.3" filter="url(#bl5)"/>
<ellipse cx="63.15" cy="100.27" rx="0.79" ry="1.22" fill="#888" opacity="0.3" filter="url(#bl5)"/>
<ellipse cx="61.00" cy="103.06" rx="1.40" ry="1.42" fill="#fff" opacity="0.6" filter="url(#bl5)"/>
<ellipse cx="63.72" cy="104.23" rx="1.40" ry="1.42" fill="#fff" opacity="0.6" filter="url(#bl5)"/>
<path d="M59.17,111.50 L58.39,113.40 M64.63,111.50 L65.41,113.40 M61.90,111.20 L61.90,114.40" stroke="#5a5a5a" stroke-width="0.6" fill="none" filter="url(#bl4)"/>
<path d="M73.10,93.50 Q74.82,93.50 75.44,95.27 Q77.00,97.75 77.00,100.93 L77.00,107.31 Q77.00,111.20 75.05,111.20 L71.15,111.20 Q69.20,111.20 69.20,107.31 L69.20,100.93 Q69.20,97.75 70.76,95.27 Q71.38,93.50 73.10,93.50 Z" fill="url(#mg)" filter="url(#bl5)"/>
<ellipse cx="70.77" cy="105.55" rx="0.83" ry="1.22" fill="#888" opacity="0.3" filter="url(#bl5)"/>
<ellipse cx="72.70" cy="98.47" rx="1.37" ry="1.37" fill="#888" opacity="0.3" filter="url(#bl5)"/>
<ellipse cx="75.34" cy="101.45" rx="1.25" ry="1.17" fill="#888" opacity="0.3" filter="url(#bl5)"/>
<ellipse cx="70.77" cy="99.52" rx="0.90" ry="1.47" fill="#888" opacity="0.3" filter="url(#bl5)"/>
<ellipse cx="74.58" cy="103.47" rx="1.33" ry="1.29" fill="#888" opacity="0.3" filter="url(#bl5)"/>
<ellipse cx="73.11" cy="104.94" rx="1.40" ry="1.42" fill="#fff" opacity="0.6" filter="url(#bl5)"/>
<ellipse cx="73.75" cy="102.37" rx="1.40" ry="1.42" fill="#fff" opacity="0.6" filter="url(#bl5)"/>
<path d="M70.37,111.50 L69.59,113.40 M75.83,111.50 L76.61,113.40 M73.10,111.20 L73.10,114.40" stroke="#5a5a5a" stroke-width="0.6" fill="none" filter="url(#bl4)"/>
<path d="M84.40,93.50 Q86.12,93.50 86.74,95.27 Q88.30,97.75 88.30,100.93 L88.30,107.31 Q88.30,111.20 86.35,111.20 L82.45,111.20 Q80.50,111.20 80.50,107.31 L80.50,100.93 Q80.50,97.75 82.06,95.27 Q82.68,93.50 84.40,93.50 Z" fill="url(#mg)" filter="url(#bl5)"/>
<ellipse cx="84.98" cy="96.36" rx="1.35" ry="0.97" fill="#888" opacity="0.3" filter="url(#bl5)"/>
<ellipse cx="84.92" cy="104.29" rx="0.81" ry="1.40" fill="#888" opacity="0.3" filter="url(#bl5)"/>
<ellipse cx="84.07" cy="97.09" rx="1.17" ry="1.26" fill="#888" opacity="0.3" filter="url(#bl5)"/>
<ellipse cx="85.91" cy="105.53" rx="0.95" ry="1.03" fill="#888" opacity="0.3" filter="url(#bl5)"/>
<ellipse cx="83.69" cy="102.82" rx="1.49" ry="1.22" fill="#888" opacity="0.3" filter="url(#bl5)"/>
<ellipse cx="84.24" cy="105.85" rx="1.40" ry="1.42" fill="#fff" opacity="0.6" filter="url(#bl5)"/>
<ellipse cx="82.93" cy="105.43" rx="1.40" ry="1.42" fill="#fff" opacity="0.6" filter="url(#bl5)"/>
<path d="M81.67,111.50 L80.89,113.40 M87.13,111.50 L87.91,113.40 M84.40,111.20 L84.40,114.40" stroke="#5a5a5a" stroke-width="0.6" fill="none" filter="url(#bl4)"/>
<rect x="94.7" y="91.0" width="70.30" height="23.40" fill="#222"/>
<rect x="94.7" y="111.20" width="70.30" height="2.6" fill="#2c2c2c" filter="url(#bl5)"/>
<line x1="107.45" y1="91.50" x2="107.45" y2="113.90" stroke="#3a3a3a" stroke-width="0.6"/>
<line x1="118.60" y1="91.50" x2="118.60" y2="113.90" stroke="#3a3a3a" stroke-width="0.6"/>
<line x1="129.40" y1="91.50" x2="129.40" y2="113.90" stroke="#3a3a3a" stroke-width="0.6"/>
<line x1="140.60" y1="91.50" x2="140.60" y2="113.90" stroke="#3a3a3a" stroke-width="0.6"/>
<line x1="152.20" y1="91.50" x2="152.20" y2="113.90" stroke="#3a3a3a" stroke-width="0.6"/>
<path d="M101.70,93.50 Q103.59,93.50 104.28,95.27 Q106.00,97.75 106.00,100.93 L106.00,107.31 Q106.00,111.20 103.85,111.20 L99.55,111.20 Q97.40,111.20 97.40,107.31 L97.40,100.93 Q97.40,97.75 99.12,95.27 Q99.81,93.50 101.70,93.50 Z" fill="url(#mg)" filter="url(#bl5)"/>
<ellipse cx="101.30" cy="98.23" rx="1.11" ry="0.99" fill="#888" opacity="0.3" filter="url(#bl5)"/>
<ellipse cx="103.31" cy="98.26" rx="1.38" ry="1.50" fill="#888" opacity="0.3" filter="url(#bl5)"/>
<ellipse cx="103.91" cy="105.60" rx="1.28" ry="1.21" fill="#888" opacity="0.3" filter="url(#bl5)"/>
<ellipse cx="100.86" cy="104.44" rx="1.70" ry="1.39" fill="#888" opacity="0.3" filter="url(#bl5)"/>
<ellipse cx="103.99" cy="104.94" rx="1.33" ry="1.53" fill="#888" opacity="0.3" filter="url(#bl5)"/>
<ellipse cx="100.42" cy="104.19" rx="1.55" ry="1.42" fill="#fff" opacity="0.6" filter="url(#bl5)"/>
<ellipse cx="103.33" cy="105.35" rx="1.55" ry="1.42" fill="#fff" opacity="0.6" filter="url(#bl5)"/>
<path d="M98.69,111.50 L97.83,113.40 M104.71,111.50 L105.57,113.40 M101.70,111.20 L101.70,114.40" stroke="#5a5a5a" stroke-width="0.6" fill="none" filter="url(#bl4)"/>
<path d="M113.20,93.50 Q115.09,93.50 115.78,95.27 Q117.50,97.75 117.50,100.93 L117.50,107.31 Q117.50,111.20 115.35,111.20 L111.05,111.20 Q108.90,111.20 108.90,107.31 L108.90,100.93 Q108.90,97.75 110.62,95.27 Q111.31,93.50 113.20,93.50 Z" fill="url(#mg)" filter="url(#bl5)"/>
<ellipse cx="112.54" cy="98.21" rx="1.30" ry="1.51" fill="#888" opacity="0.3" filter="url(#bl5)"/>
<ellipse cx="115.36" cy="105.65" rx="1.08" ry="1.35" fill="#888" opacity="0.3" filter="url(#bl5)"/>
<ellipse cx="114.65" cy="101.19" rx="1.67" ry="1.11" fill="#888" opacity="0.3" filter="url(#bl5)"/>
<ellipse cx="111.49" cy="99.83" rx="0.89" ry="1.59" fill="#888" opacity="0.3" filter="url(#bl5)"/>
<ellipse cx="112.98" cy="101.99" rx="1.37" ry="1.18" fill="#888" opacity="0.3" filter="url(#bl5)"/>
<ellipse cx="112.37" cy="105.80" rx="1.55" ry="1.42" fill="#fff" opacity="0.6" filter="url(#bl5)"/>
<ellipse cx="111.31" cy="104.17" rx="1.55" ry="1.42" fill="#fff" opacity="0.6" filter="url(#bl5)"/>
<path d="M110.19,111.50 L109.33,113.40 M116.21,111.50 L117.07,113.40 M113.20,111.20 L113.20,114.40" stroke="#5a5a5a" stroke-width="0.6" fill="none" filter="url(#bl4)"/>
<path d="M124.00,93.50 Q125.89,93.50 126.58,95.27 Q128.30,97.75 128.30,100.93 L128.30,107.31 Q128.30,111.20 126.15,111.20 L121.85,111.20 Q119.70,111.20 119.70,107.31 L119.70,100.93 Q119.70,97.75 121.42,95.27 Q122.11,93.50 124.00,93.50 Z" fill="url(#mg)" filter="url(#bl5)"/>
<ellipse cx="124.62" cy="101.31" rx="1.04" ry="1.19" fill="#888" opacity="0.3" filter="url(#bl5)"/>
<ellipse cx="123.39" cy="102.73" rx="0.95" ry="1.48" fill="#888" opacity="0.3" filter="url(#bl5)"/>
<ellipse cx="123.62" cy="97.00" rx="1.38" ry="1.39" fill="#888" opacity="0.3" filter="url(#bl5)"/>
<ellipse cx="125.28" cy="96.73" rx="1.24" ry="1.11" fill="#888" opacity="0.3" filter="url(#bl5)"/>
<ellipse cx="126.18" cy="102.13" rx="1.20" ry="1.09" fill="#888" opacity="0.3" filter="url(#bl5)"/>
<ellipse cx="125.37" cy="103.54" rx="1.55" ry="1.42" fill="#fff" opacity="0.6" filter="url(#bl5)"/>
<ellipse cx="124.42" cy="105.50" rx="1.55" ry="1.42" fill="#fff" opacity="0.6" filter="url(#bl5)"/>
<path d="M120.99,111.50 L120.13,113.40 M127.01,111.50 L127.87,113.40 M124.00,111.20 L124.00,114.40" stroke="#5a5a5a" stroke-width="0.6" fill="none" filter="url(#bl4)"/>
<path d="M134.80,93.50 Q136.69,93.50 137.38,95.27 Q139.10,97.75 139.10,100.93 L139.10,107.31 Q139.10,111.20 136.95,111.20 L132.65,111.20 Q130.50,111.20 130.50,107.31 L130.50,100.93 Q130.50,97.75 132.22,95.27 Q132.91,93.50 134.80,93.50 Z" fill="url(#mg)" filter="url(#bl5)"/>
<ellipse cx="133.69" cy="97.18" rx="0.87" ry="0.94" fill="#888" opacity="0.3" filter="url(#bl5)"/>
<ellipse cx="135.19" cy="99.16" rx="1.38" ry="1.12" fill="#888" opacity="0.3" filter="url(#bl5)"/>
<ellipse cx="132.57" cy="105.59" rx="0.94" ry="1.31" fill="#888" opacity="0.3" filter="url(#bl5)"/>
<ellipse cx="134.16" cy="105.35" rx="1.67" ry="1.41" fill="#888" opacity="0.3" filter="url(#bl5)"/>
<ellipse cx="133.60" cy="101.74" rx="0.98" ry="1.04" fill="#888" opacity="0.3" filter="url(#bl5)"/>
<ellipse cx="135.59" cy="107.13" rx="1.55" ry="1.42" fill="#fff" opacity="0.6" filter="url(#bl5)"/>
<ellipse cx="136.53" cy="102.63" rx="1.55" ry="1.42" fill="#fff" opacity="0.6" filter="url(#bl5)"/>
<path d="M131.79,111.50 L130.93,113.40 M137.81,111.50 L138.67,113.40 M134.80,111.20 L134.80,114.40" stroke="#5a5a5a" stroke-width="0.6" fill="none" filter="url(#bl4)"/>
<path d="M146.40,93.50 Q148.29,93.50 148.98,95.27 Q150.70,97.75 150.70,100.93 L150.70,107.31 Q150.70,111.20 148.55,111.20 L144.25,111.20 Q142.10,111.20 142.10,107.31 L142.10,100.93 Q142.10,97.75 143.82,95.27 Q144.51,93.50 146.40,93.50 Z" fill="url(#mg)" filter="url(#bl5)"/>
<ellipse cx="148.62" cy="96.65" rx="1.57" ry="0.92" fill="#888" opacity="0.3" filter="url(#bl5)"/>
<ellipse cx="145.87" cy="103.91" rx="1.66" ry="1.37" fill="#888" opacity="0.3" filter="url(#bl5)"/>
<ellipse cx="148.29" cy="100.45" rx="1.11" ry="1.15" fill="#888" opacity="0.3" filter="url(#bl5)"/>
<ellipse cx="147.39" cy="95.71" rx="1.36" ry="1.14" fill="#888" opacity="0.3" filter="url(#bl5)"/>
<ellipse cx="145.08" cy="95.88" rx="1.05" ry="1.39" fill="#888" opacity="0.3" filter="url(#bl5)"/>
<ellipse cx="148.26" cy="105.46" rx="1.55" ry="1.42" fill="#fff" opacity="0.6" filter="url(#bl5)"/>
<ellipse cx="147.16" cy="105.47" rx="1.55" ry="1.42" fill="#fff" opacity="0.6" filter="url(#bl5)"/>
<path d="M143.39,111.50 L142.53,113.40 M149.41,111.50 L150.27,113.40 M146.40,111.20 L146.40,114.40" stroke="#5a5a5a" stroke-width="0.6" fill="none" filter="url(#bl4)"/>
<path d="M158.00,93.50 Q159.89,93.50 160.58,95.27 Q162.30,97.75 162.30,100.93 L162.30,107.31 Q162.30,111.20 160.15,111.20 L155.85,111.20 Q153.70,111.20 153.70,107.31 L153.70,100.93 Q153.70,97.75 155.42,95.27 Q156.11,93.50 158.00,93.50 Z" fill="url(#mg)" filter="url(#bl5)"/>
<ellipse cx="157.96" cy="99.49" rx="1.18" ry="1.31" fill="#888" opacity="0.3" filter="url(#bl5)"/>
<ellipse cx="155.61" cy="101.37" rx="1.02" ry="1.16" fill="#888" opacity="0.3" filter="url(#bl5)"/>
<ellipse cx="157.91" cy="99.67" rx="1.40" ry="0.96" fill="#888" opacity="0.3" filter="url(#bl5)"/>
<ellipse cx="156.86" cy="101.11" rx="1.51" ry="1.46" fill="#888" opacity="0.3" filter="url(#bl5)"/>
<ellipse cx="156.07" cy="101.77" rx="1.13" ry="0.89" fill="#888" opacity="0.3" filter="url(#bl5)"/>
<ellipse cx="159.05" cy="104.98" rx="1.55" ry="1.42" fill="#fff" opacity="0.6" filter="url(#bl5)"/>
<ellipse cx="156.18" cy="102.67" rx="1.55" ry="1.42" fill="#fff" opacity="0.6" filter="url(#bl5)"/>
<path d="M154.99,111.50 L154.13,113.40 M161.01,111.50 L161.87,113.40 M158.00,111.20 L158.00,114.40" stroke="#5a5a5a" stroke-width="0.6" fill="none" filter="url(#bl4)"/>
<ellipse cx="46.3" cy="51" rx="1.79" ry="1.79" fill="url(#hb)"/>
<ellipse cx="87.5" cy="49.6" rx="1.45" ry="1.45" fill="url(#hb)"/>
<ellipse cx="42.5" cy="77.6" rx="1.79" ry="1.79" fill="url(#hb)"/>
<ellipse cx="48.75" cy="77.6" rx="1.68" ry="1.68" fill="url(#hb)"/>
<ellipse cx="75.6" cy="79.8" rx="5.44" ry="3.37" fill="url(#hh)"/>
<ellipse cx="75.6" cy="79.8" rx="4.44" ry="2.83" fill="url(#hb)"/>
<ellipse cx="76.5" cy="67" rx="1.33" ry="1.33" fill="url(#hb)"/>
<ellipse cx="78" cy="74" rx="1.45" ry="1.45" fill="url(#hb)"/>
<ellipse cx="85.5" cy="80" rx="6.28" ry="3.91" fill="url(#hh)"/>
<ellipse cx="85.5" cy="80" rx="5.13" ry="3.29" fill="url(#hb)"/>
<ellipse cx="83.5" cy="68.5" rx="2.50" ry="2.43" fill="url(#hh)"/>
<ellipse cx="83.5" cy="68.5" rx="2.02" ry="2.02" fill="url(#hb)"/>
<ellipse cx="86.9" cy="75.4" rx="1.45" ry="1.45" fill="url(#hb)"/>
<ellipse cx="88.75" cy="79.75" rx="1.68" ry="1.68" fill="url(#hb)"/>
<ellipse cx="37.5" cy="104.9" rx="1.79" ry="1.79" fill="url(#hb)"/>
<ellipse cx="42.5" cy="105.75" rx="2.50" ry="2.43" fill="url(#hh)"/>
<ellipse cx="42.5" cy="105.75" rx="2.02" ry="2.02" fill="url(#hb)"/>
<ellipse cx="50.6" cy="98" rx="1.22" ry="1.22" fill="url(#hb)"/>
<ellipse cx="48.1" cy="104.25" rx="2.50" ry="2.43" fill="url(#hh)"/>
<ellipse cx="48.1" cy="104.25" rx="2.02" ry="2.02" fill="url(#hc)"/>
<ellipse cx="53.1" cy="106.5" rx="3.62" ry="3.50" fill="url(#hh)"/>
<ellipse cx="53.1" cy="106.5" rx="2.94" ry="2.94" fill="url(#hb)"/>
<ellipse cx="61.9" cy="103" rx="4.60" ry="3.10" fill="url(#hh)"/>
<ellipse cx="61.9" cy="103" rx="3.75" ry="2.60" fill="url(#hb)"/>
<ellipse cx="75" cy="95.6" rx="2.78" ry="3.10" fill="url(#hh)"/>
<ellipse cx="75" cy="95.6" rx="2.25" ry="2.60" fill="url(#hb)"/>
<ellipse cx="74" cy="99.8" rx="1.91" ry="1.91" fill="url(#hb)"/>
<ellipse cx="75.8" cy="102.3" rx="1.79" ry="1.79" fill="url(#hc)"/>
<ellipse cx="73.3" cy="106.2" rx="5.44" ry="3.77" fill="url(#hh)"/>
<ellipse cx="73.3" cy="106.2" rx="4.44" ry="3.17" fill="url(#hb)"/>
<ellipse cx="71.5" cy="103.5" rx="1.45" ry="1.45" fill="url(#hb)"/>
<ellipse cx="72.8" cy="106" rx="1.56" ry="1.56" fill="url(#hc)"/>
<ellipse cx="82.6" cy="96.6" rx="2.92" ry="2.83" fill="url(#hh)"/>
<ellipse cx="82.6" cy="96.6" rx="2.37" ry="2.37" fill="url(#hc)"/>
<ellipse cx="85.6" cy="99.2" rx="2.50" ry="2.43" fill="url(#hh)"/>
<ellipse cx="85.6" cy="99.2" rx="2.02" ry="2.02" fill="url(#hb)"/>
<ellipse cx="86.2" cy="102.2" rx="2.64" ry="2.56" fill="url(#hh)"/>
<ellipse cx="86.2" cy="102.2" rx="2.14" ry="2.14" fill="url(#hb)"/>
<ellipse cx="84.4" cy="105" rx="3.20" ry="3.10" fill="url(#hh)"/>
<ellipse cx="84.4" cy="105" rx="2.60" ry="2.60" fill="url(#hb)"/>
<ellipse cx="83.8" cy="108.2" rx="5.30" ry="3.64" fill="url(#hh)"/>
<ellipse cx="83.8" cy="108.2" rx="4.32" ry="3.06" fill="url(#hb)"/>
<ellipse cx="84.6" cy="108.5" rx="2.64" ry="2.56" fill="url(#hh)"/>
<ellipse cx="84.6" cy="108.5" rx="2.14" ry="2.14" fill="url(#hG)"/>
<ellipse cx="88.5" cy="106" rx="2.50" ry="2.43" fill="url(#hh)"/>
<ellipse cx="88.5" cy="106" rx="2.02" ry="2.02" fill="url(#hb)"/>
<ellipse cx="81.2" cy="101.5" rx="1.45" ry="1.45" fill="url(#hb)"/>
<ellipse cx="136.3" cy="73.3" rx="1.10" ry="1.10" fill="url(#hb)"/>
<ellipse cx="133.8" cy="78" rx="1.45" ry="1.45" fill="url(#hb)"/>
<ellipse cx="138" cy="77.6" rx="1.45" ry="1.45" fill="url(#hb)"/>
<ellipse cx="144.2" cy="73.7" rx="1.45" ry="1.45" fill="url(#hb)"/>
<ellipse cx="148.6" cy="73.3" rx="1.45" ry="1.45" fill="url(#hb)"/>
<ellipse cx="145" cy="78" rx="1.68" ry="1.68" fill="url(#hb)"/>
<ellipse cx="149" cy="77.6" rx="1.45" ry="1.45" fill="url(#hb)"/>
<ellipse cx="160.5" cy="74" rx="1.10" ry="1.10" fill="url(#hb)"/>
<ellipse cx="160.8" cy="77.2" rx="1.10" ry="1.10" fill="url(#hb)"/>
<ellipse cx="130.8" cy="107" rx="3.20" ry="3.10" fill="url(#hh)"/>
<ellipse cx="130.8" cy="107" rx="2.60" ry="2.60" fill="url(#hb)"/>
<ellipse cx="144.2" cy="102.4" rx="1.45" ry="1.45" fill="url(#hg)"/>
<ellipse cx="148.6" cy="102" rx="3.20" ry="3.10" fill="url(#hh)"/>
<ellipse cx="148.6" cy="102" rx="2.60" ry="2.60" fill="url(#hb)"/>
<ellipse cx="144.2" cy="106.8" rx="3.20" ry="3.10" fill="url(#hh)"/>
<ellipse cx="144.2" cy="106.8" rx="2.60" ry="2.60" fill="url(#hb)"/>
<ellipse cx="148.6" cy="106.8" rx="3.20" ry="3.10" fill="url(#hh)"/>
<ellipse cx="148.6" cy="106.8" rx="2.60" ry="2.60" fill="url(#hb)"/>
<ellipse cx="159.7" cy="98.8" rx="1.22" ry="1.22" fill="url(#hb)"/>
<ellipse cx="160.8" cy="102.7" rx="1.45" ry="1.45" fill="url(#hb)"/>
<ellipse cx="161" cy="106.8" rx="1.68" ry="1.68" fill="url(#hb)"/>
<rect x="31.2" y="167.7" width="60.30" height="24.50" fill="#222"/>
<rect x="31.2" y="189.00" width="60.30" height="2.6" fill="#2c2c2c" filter="url(#bl5)"/>
<line x1="39.75" y1="168.20" x2="39.75" y2="191.70" stroke="#3a3a3a" stroke-width="0.6"/>
<line x1="48.38" y1="168.20" x2="48.38" y2="191.70" stroke="#3a3a3a" stroke-width="0.6"/>
<line x1="57.00" y1="168.20" x2="57.00" y2="191.70" stroke="#3a3a3a" stroke-width="0.6"/>
<line x1="65.42" y1="168.20" x2="65.42" y2="191.70" stroke="#3a3a3a" stroke-width="0.6"/>
<line x1="74.00" y1="168.20" x2="74.00" y2="191.70" stroke="#3a3a3a" stroke-width="0.6"/>
<line x1="82.58" y1="168.20" x2="82.58" y2="191.70" stroke="#3a3a3a" stroke-width="0.6"/>
<path d="M35.50,170.20 Q37.00,170.20 37.54,172.08 Q38.90,174.71 38.90,178.10 L38.90,184.86 Q38.90,189.00 37.20,189.00 L33.80,189.00 Q32.10,189.00 32.10,184.86 L32.10,178.10 Q32.10,174.71 33.46,172.08 Q34.00,170.20 35.50,170.20 Z" fill="url(#mg2)" filter="url(#bl5)"/>
<ellipse cx="35.55" cy="183.27" rx="0.96" ry="1.48" fill="#888" opacity="0.3" filter="url(#bl5)"/>
<ellipse cx="33.67" cy="179.53" rx="0.77" ry="1.50" fill="#888" opacity="0.3" filter="url(#bl5)"/>
<ellipse cx="37.30" cy="173.64" rx="1.10" ry="1.05" fill="#888" opacity="0.3" filter="url(#bl5)"/>
<ellipse cx="35.41" cy="172.11" rx="0.85" ry="1.17" fill="#888" opacity="0.3" filter="url(#bl5)"/>
<ellipse cx="35.20" cy="182.98" rx="1.32" ry="1.21" fill="#888" opacity="0.3" filter="url(#bl5)"/>
<ellipse cx="35.85" cy="180.26" rx="1.22" ry="1.50" fill="#fff" opacity="0.6" filter="url(#bl5)"/>
<ellipse cx="34.23" cy="182.53" rx="1.22" ry="1.50" fill="#fff" opacity="0.6" filter="url(#bl5)"/>
<path d="M33.12,189.30 L32.44,191.20 M37.88,189.30 L38.56,191.20 M35.50,189.00 L35.50,192.20" stroke="#5a5a5a" stroke-width="0.6" fill="none" filter="url(#bl4)"/>
<path d="M44.00,170.20 Q45.50,170.20 46.04,172.08 Q47.40,174.71 47.40,178.10 L47.40,184.86 Q47.40,189.00 45.70,189.00 L42.30,189.00 Q40.60,189.00 40.60,184.86 L40.60,178.10 Q40.60,174.71 41.96,172.08 Q42.50,170.20 44.00,170.20 Z" fill="url(#mg2)" filter="url(#bl5)"/>
<ellipse cx="43.45" cy="181.34" rx="0.78" ry="1.59" fill="#888" opacity="0.3" filter="url(#bl5)"/>
<ellipse cx="42.35" cy="181.06" rx="1.26" ry="1.15" fill="#888" opacity="0.3" filter="url(#bl5)"/>
<ellipse cx="44.70" cy="181.01" rx="1.30" ry="1.40" fill="#888" opacity="0.3" filter="url(#bl5)"/>
<ellipse cx="44.29" cy="182.33" rx="0.95" ry="1.36" fill="#888" opacity="0.3" filter="url(#bl5)"/>
<ellipse cx="45.03" cy="175.31" rx="1.31" ry="1.41" fill="#888" opacity="0.3" filter="url(#bl5)"/>
<ellipse cx="45.54" cy="184.66" rx="1.22" ry="1.50" fill="#fff" opacity="0.6" filter="url(#bl5)"/>
<ellipse cx="44.42" cy="181.30" rx="1.22" ry="1.50" fill="#fff" opacity="0.6" filter="url(#bl5)"/>
<path d="M41.62,189.30 L40.94,191.20 M46.38,189.30 L47.06,191.20 M44.00,189.00 L44.00,192.20" stroke="#5a5a5a" stroke-width="0.6" fill="none" filter="url(#bl4)"/>
<path d="M52.75,170.20 Q54.25,170.20 54.79,172.08 Q56.15,174.71 56.15,178.10 L56.15,184.86 Q56.15,189.00 54.45,189.00 L51.05,189.00 Q49.35,189.00 49.35,184.86 L49.35,178.10 Q49.35,174.71 50.71,172.08 Q51.25,170.20 52.75,170.20 Z" fill="url(#mg2)" filter="url(#bl5)"/>
<ellipse cx="52.30" cy="181.43" rx="1.17" ry="1.33" fill="#888" opacity="0.3" filter="url(#bl5)"/>
<ellipse cx="53.10" cy="181.56" rx="1.17" ry="1.43" fill="#888" opacity="0.3" filter="url(#bl5)"/>
<ellipse cx="51.22" cy="182.80" rx="0.96" ry="1.29" fill="#888" opacity="0.3" filter="url(#bl5)"/>
<ellipse cx="54.26" cy="176.30" rx="0.89" ry="1.47" fill="#888" opacity="0.3" filter="url(#bl5)"/>
<ellipse cx="53.00" cy="181.95" rx="1.10" ry="1.43" fill="#888" opacity="0.3" filter="url(#bl5)"/>
<ellipse cx="53.39" cy="181.23" rx="1.22" ry="1.50" fill="#fff" opacity="0.6" filter="url(#bl5)"/>
<ellipse cx="53.74" cy="183.28" rx="1.22" ry="1.50" fill="#fff" opacity="0.6" filter="url(#bl5)"/>
<path d="M50.37,189.30 L49.69,191.20 M55.13,189.30 L55.81,191.20 M52.75,189.00 L52.75,192.20" stroke="#5a5a5a" stroke-width="0.6" fill="none" filter="url(#bl4)"/>
<path d="M61.25,170.20 Q62.75,170.20 63.29,172.08 Q64.65,174.71 64.65,178.10 L64.65,184.86 Q64.65,189.00 62.95,189.00 L59.55,189.00 Q57.85,189.00 57.85,184.86 L57.85,178.10 Q57.85,174.71 59.21,172.08 Q59.75,170.20 61.25,170.20 Z" fill="url(#mg2)" filter="url(#bl5)"/>
<ellipse cx="61.04" cy="179.99" rx="0.98" ry="1.16" fill="#888" opacity="0.3" filter="url(#bl5)"/>
<ellipse cx="62.69" cy="178.77" rx="1.33" ry="1.09" fill="#888" opacity="0.3" filter="url(#bl5)"/>
<ellipse cx="62.45" cy="178.79" rx="0.68" ry="1.61" fill="#888" opacity="0.3" filter="url(#bl5)"/>
<ellipse cx="62.24" cy="175.12" rx="1.04" ry="1.51" fill="#888" opacity="0.3" filter="url(#bl5)"/>
<ellipse cx="60.18" cy="180.33" rx="0.93" ry="1.50" fill="#888" opacity="0.3" filter="url(#bl5)"/>
<ellipse cx="60.96" cy="184.19" rx="1.22" ry="1.50" fill="#fff" opacity="0.6" filter="url(#bl5)"/>
<ellipse cx="60.54" cy="185.36" rx="1.22" ry="1.50" fill="#fff" opacity="0.6" filter="url(#bl5)"/>
<path d="M58.87,189.30 L58.19,191.20 M63.63,189.30 L64.31,191.20 M61.25,189.00 L61.25,192.20" stroke="#5a5a5a" stroke-width="0.6" fill="none" filter="url(#bl4)"/>
<path d="M69.60,170.20 Q71.10,170.20 71.64,172.08 Q73.00,174.71 73.00,178.10 L73.00,184.86 Q73.00,189.00 71.30,189.00 L67.90,189.00 Q66.20,189.00 66.20,184.86 L66.20,178.10 Q66.20,174.71 67.56,172.08 Q68.10,170.20 69.60,170.20 Z" fill="url(#mg2)" filter="url(#bl5)"/>
<ellipse cx="71.02" cy="172.60" rx="1.05" ry="1.03" fill="#888" opacity="0.3" filter="url(#bl5)"/>
<ellipse cx="67.89" cy="177.80" rx="0.85" ry="0.98" fill="#888" opacity="0.3" filter="url(#bl5)"/>
<ellipse cx="69.88" cy="180.78" rx="1.26" ry="1.22" fill="#888" opacity="0.3" filter="url(#bl5)"/>
<ellipse cx="69.46" cy="178.83" rx="1.17" ry="1.56" fill="#888" opacity="0.3" filter="url(#bl5)"/>
<ellipse cx="68.44" cy="175.83" rx="1.26" ry="1.23" fill="#888" opacity="0.3" filter="url(#bl5)"/>
<ellipse cx="68.11" cy="181.20" rx="1.22" ry="1.50" fill="#fff" opacity="0.6" filter="url(#bl5)"/>
<ellipse cx="68.82" cy="183.95" rx="1.22" ry="1.50" fill="#fff" opacity="0.6" filter="url(#bl5)"/>
<path d="M67.22,189.30 L66.54,191.20 M71.98,189.30 L72.66,191.20 M69.60,189.00 L69.60,192.20" stroke="#5a5a5a" stroke-width="0.6" fill="none" filter="url(#bl4)"/>
<path d="M78.40,170.20 Q79.90,170.20 80.44,172.08 Q81.80,174.71 81.80,178.10 L81.80,184.86 Q81.80,189.00 80.10,189.00 L76.70,189.00 Q75.00,189.00 75.00,184.86 L75.00,178.10 Q75.00,174.71 76.36,172.08 Q76.90,170.20 78.40,170.20 Z" fill="url(#mg2)" filter="url(#bl5)"/>
<ellipse cx="77.32" cy="173.53" rx="0.77" ry="1.68" fill="#888" opacity="0.3" filter="url(#bl5)"/>
<ellipse cx="79.44" cy="180.39" rx="0.84" ry="1.60" fill="#888" opacity="0.3" filter="url(#bl5)"/>
<ellipse cx="79.97" cy="174.23" rx="1.07" ry="1.42" fill="#888" opacity="0.3" filter="url(#bl5)"/>
<ellipse cx="78.17" cy="172.19" rx="1.29" ry="1.68" fill="#888" opacity="0.3" filter="url(#bl5)"/>
<ellipse cx="78.28" cy="181.40" rx="1.33" ry="1.60" fill="#888" opacity="0.3" filter="url(#bl5)"/>
<ellipse cx="79.40" cy="183.96" rx="1.22" ry="1.50" fill="#fff" opacity="0.6" filter="url(#bl5)"/>
<ellipse cx="77.16" cy="183.06" rx="1.22" ry="1.50" fill="#fff" opacity="0.6" filter="url(#bl5)"/>
<path d="M76.02,189.30 L75.34,191.20 M80.78,189.30 L81.46,191.20 M78.40,189.00 L78.40,192.20" stroke="#5a5a5a" stroke-width="0.6" fill="none" filter="url(#bl4)"/>
<path d="M86.75,170.20 Q88.25,170.20 88.79,172.08 Q90.15,174.71 90.15,178.10 L90.15,184.86 Q90.15,189.00 88.45,189.00 L85.05,189.00 Q83.35,189.00 83.35,184.86 L83.35,178.10 Q83.35,174.71 84.71,172.08 Q85.25,170.20 86.75,170.20 Z" fill="url(#mg2)" filter="url(#bl5)"/>
<ellipse cx="88.55" cy="176.52" rx="0.79" ry="1.37" fill="#888" opacity="0.3" filter="url(#bl5)"/>
<ellipse cx="86.97" cy="176.74" rx="1.26" ry="1.39" fill="#888" opacity="0.3" filter="url(#bl5)"/>
<ellipse cx="85.21" cy="181.02" rx="1.29" ry="0.95" fill="#888" opacity="0.3" filter="url(#bl5)"/>
<ellipse cx="87.00" cy="172.43" rx="1.27" ry="1.47" fill="#888" opacity="0.3" filter="url(#bl5)"/>
<ellipse cx="84.85" cy="183.03" rx="1.33" ry="1.68" fill="#888" opacity="0.3" filter="url(#bl5)"/>
<ellipse cx="85.38" cy="184.50" rx="1.22" ry="1.50" fill="#fff" opacity="0.6" filter="url(#bl5)"/>
<ellipse cx="85.09" cy="184.78" rx="1.22" ry="1.50" fill="#fff" opacity="0.6" filter="url(#bl5)"/>
<path d="M84.37,189.30 L83.69,191.20 M89.13,189.30 L89.81,191.20 M86.75,189.00 L86.75,192.20" stroke="#5a5a5a" stroke-width="0.6" fill="none" filter="url(#bl4)"/>
<rect x="94.25" y="167.7" width="60.25" height="24.50" fill="#222"/>
<rect x="94.25" y="189.00" width="60.25" height="2.6" fill="#2c2c2c" filter="url(#bl5)"/>
<line x1="103.40" y1="168.20" x2="103.40" y2="191.70" stroke="#3a3a3a" stroke-width="0.6"/>
<line x1="112.15" y1="168.20" x2="112.15" y2="191.70" stroke="#3a3a3a" stroke-width="0.6"/>
<line x1="120.75" y1="168.20" x2="120.75" y2="191.70" stroke="#3a3a3a" stroke-width="0.6"/>
<line x1="129.18" y1="168.20" x2="129.18" y2="191.70" stroke="#3a3a3a" stroke-width="0.6"/>
<line x1="137.32" y1="168.20" x2="137.32" y2="191.70" stroke="#3a3a3a" stroke-width="0.6"/>
<line x1="145.45" y1="168.20" x2="145.45" y2="191.70" stroke="#3a3a3a" stroke-width="0.6"/>
<path d="M98.90,170.20 Q100.40,170.20 100.94,172.08 Q102.30,174.71 102.30,178.10 L102.30,184.86 Q102.30,189.00 100.60,189.00 L97.20,189.00 Q95.50,189.00 95.50,184.86 L95.50,178.10 Q95.50,174.71 96.86,172.08 Q97.40,170.20 98.90,170.20 Z" fill="url(#mg2)" filter="url(#bl5)"/>
<ellipse cx="98.77" cy="178.08" rx="0.71" ry="1.30" fill="#888" opacity="0.3" filter="url(#bl5)"/>
<ellipse cx="98.93" cy="176.43" rx="1.25" ry="1.50" fill="#888" opacity="0.3" filter="url(#bl5)"/>
<ellipse cx="100.23" cy="179.97" rx="1.14" ry="1.11" fill="#888" opacity="0.3" filter="url(#bl5)"/>
<ellipse cx="100.37" cy="181.47" rx="1.31" ry="1.15" fill="#888" opacity="0.3" filter="url(#bl5)"/>
<ellipse cx="100.04" cy="173.64" rx="1.17" ry="1.49" fill="#888" opacity="0.3" filter="url(#bl5)"/>
<ellipse cx="98.05" cy="184.89" rx="1.22" ry="1.50" fill="#fff" opacity="0.6" filter="url(#bl5)"/>
<ellipse cx="98.21" cy="182.54" rx="1.22" ry="1.50" fill="#fff" opacity="0.6" filter="url(#bl5)"/>
<path d="M96.52,189.30 L95.84,191.20 M101.28,189.30 L101.96,191.20 M98.90,189.00 L98.90,192.20" stroke="#5a5a5a" stroke-width="0.6" fill="none" filter="url(#bl4)"/>
<path d="M107.90,170.20 Q109.40,170.20 109.94,172.08 Q111.30,174.71 111.30,178.10 L111.30,184.86 Q111.30,189.00 109.60,189.00 L106.20,189.00 Q104.50,189.00 104.50,184.86 L104.50,178.10 Q104.50,174.71 105.86,172.08 Q106.40,170.20 107.90,170.20 Z" fill="url(#mg2)" filter="url(#bl5)"/>
<ellipse cx="108.18" cy="179.09" rx="0.83" ry="1.05" fill="#888" opacity="0.3" filter="url(#bl5)"/>
<ellipse cx="108.86" cy="176.76" rx="0.92" ry="1.40" fill="#888" opacity="0.3" filter="url(#bl5)"/>
<ellipse cx="108.68" cy="179.38" rx="1.06" ry="1.38" fill="#888" opacity="0.3" filter="url(#bl5)"/>
<ellipse cx="106.39" cy="181.43" rx="1.13" ry="1.30" fill="#888" opacity="0.3" filter="url(#bl5)"/>
<ellipse cx="109.36" cy="172.70" rx="1.35" ry="1.37" fill="#888" opacity="0.3" filter="url(#bl5)"/>
<ellipse cx="106.30" cy="182.88" rx="1.22" ry="1.50" fill="#fff" opacity="0.6" filter="url(#bl5)"/>
<ellipse cx="108.11" cy="183.41" rx="1.22" ry="1.50" fill="#fff" opacity="0.6" filter="url(#bl5)"/>
<path d="M105.52,189.30 L104.84,191.20 M110.28,189.30 L110.96,191.20 M107.90,189.00 L107.90,192.20" stroke="#5a5a5a" stroke-width="0.6" fill="none" filter="url(#bl4)"/>
<path d="M116.40,170.20 Q117.90,170.20 118.44,172.08 Q119.80,174.71 119.80,178.10 L119.80,184.86 Q119.80,189.00 118.10,189.00 L114.70,189.00 Q113.00,189.00 113.00,184.86 L113.00,178.10 Q113.00,174.71 114.36,172.08 Q114.90,170.20 116.40,170.20 Z" fill="url(#mg2)" filter="url(#bl5)"/>
<ellipse cx="116.33" cy="182.27" rx="0.92" ry="1.45" fill="#888" opacity="0.3" filter="url(#bl5)"/>
<ellipse cx="115.79" cy="172.98" rx="0.87" ry="1.19" fill="#888" opacity="0.3" filter="url(#bl5)"/>
<ellipse cx="116.57" cy="182.09" rx="1.15" ry="1.22" fill="#888" opacity="0.3" filter="url(#bl5)"/>
<ellipse cx="115.89" cy="179.79" rx="1.27" ry="1.28" fill="#888" opacity="0.3" filter="url(#bl5)"/>
<ellipse cx="115.77" cy="175.04" rx="1.30" ry="1.43" fill="#888" opacity="0.3" filter="url(#bl5)"/>
<ellipse cx="115.19" cy="180.94" rx="1.22" ry="1.50" fill="#fff" opacity="0.6" filter="url(#bl5)"/>
<ellipse cx="114.88" cy="183.56" rx="1.22" ry="1.50" fill="#fff" opacity="0.6" filter="url(#bl5)"/>
<path d="M114.02,189.30 L113.34,191.20 M118.78,189.30 L119.46,191.20 M116.40,189.00 L116.40,192.20" stroke="#5a5a5a" stroke-width="0.6" fill="none" filter="url(#bl4)"/>
<path d="M125.10,170.20 Q126.60,170.20 127.14,172.08 Q128.50,174.71 128.50,178.10 L128.50,184.86 Q128.50,189.00 126.80,189.00 L123.40,189.00 Q121.70,189.00 121.70,184.86 L121.70,178.10 Q121.70,174.71 123.06,172.08 Q123.60,170.20 125.10,170.20 Z" fill="url(#mg2)" filter="url(#bl5)"/>
<ellipse cx="123.34" cy="177.06" rx="1.25" ry="1.51" fill="#888" opacity="0.3" filter="url(#bl5)"/>
<ellipse cx="123.76" cy="174.48" rx="0.81" ry="1.55" fill="#888" opacity="0.3" filter="url(#bl5)"/>
<ellipse cx="124.50" cy="175.16" rx="1.36" ry="1.60" fill="#888" opacity="0.3" filter="url(#bl5)"/>
<ellipse cx="123.23" cy="180.36" rx="1.14" ry="1.29" fill="#888" opacity="0.3" filter="url(#bl5)"/>
<ellipse cx="124.25" cy="175.34" rx="1.25" ry="1.16" fill="#888" opacity="0.3" filter="url(#bl5)"/>
<ellipse cx="124.71" cy="183.66" rx="1.22" ry="1.50" fill="#fff" opacity="0.6" filter="url(#bl5)"/>
<ellipse cx="124.79" cy="185.69" rx="1.22" ry="1.50" fill="#fff" opacity="0.6" filter="url(#bl5)"/>
<path d="M122.72,189.30 L122.04,191.20 M127.48,189.30 L128.16,191.20 M125.10,189.00 L125.10,192.20" stroke="#5a5a5a" stroke-width="0.6" fill="none" filter="url(#bl4)"/>
<path d="M133.25,170.20 Q134.75,170.20 135.29,172.08 Q136.65,174.71 136.65,178.10 L136.65,184.86 Q136.65,189.00 134.95,189.00 L131.55,189.00 Q129.85,189.00 129.85,184.86 L129.85,178.10 Q129.85,174.71 131.21,172.08 Q131.75,170.20 133.25,170.20 Z" fill="url(#mg2)" filter="url(#bl5)"/>
<ellipse cx="134.61" cy="181.99" rx="0.99" ry="1.29" fill="#888" opacity="0.3" filter="url(#bl5)"/>
<ellipse cx="132.14" cy="178.99" rx="0.93" ry="1.21" fill="#888" opacity="0.3" filter="url(#bl5)"/>
<ellipse cx="132.12" cy="177.10" rx="0.75" ry="1.33" fill="#888" opacity="0.3" filter="url(#bl5)"/>
<ellipse cx="132.50" cy="176.91" rx="1.23" ry="1.43" fill="#888" opacity="0.3" filter="url(#bl5)"/>
<ellipse cx="132.99" cy="180.89" rx="0.93" ry="1.19" fill="#888" opacity="0.3" filter="url(#bl5)"/>
<ellipse cx="131.83" cy="181.76" rx="1.22" ry="1.50" fill="#fff" opacity="0.6" filter="url(#bl5)"/>
<ellipse cx="131.86" cy="185.78" rx="1.22" ry="1.50" fill="#fff" opacity="0.6" filter="url(#bl5)"/>
<path d="M130.87,189.30 L130.19,191.20 M135.63,189.30 L136.31,191.20 M133.25,189.00 L133.25,192.20" stroke="#5a5a5a" stroke-width="0.6" fill="none" filter="url(#bl4)"/>
<path d="M141.40,170.20 Q142.90,170.20 143.44,172.08 Q144.80,174.71 144.80,178.10 L144.80,184.86 Q144.80,189.00 143.10,189.00 L139.70,189.00 Q138.00,189.00 138.00,184.86 L138.00,178.10 Q138.00,174.71 139.36,172.08 Q139.90,170.20 141.40,170.20 Z" fill="url(#mg2)" filter="url(#bl5)"/>
<ellipse cx="141.08" cy="179.19" rx="1.09" ry="1.04" fill="#888" opacity="0.3" filter="url(#bl5)"/>
<ellipse cx="139.64" cy="182.56" rx="0.76" ry="1.66" fill="#888" opacity="0.3" filter="url(#bl5)"/>
<ellipse cx="143.42" cy="173.56" rx="1.22" ry="1.58" fill="#888" opacity="0.3" filter="url(#bl5)"/>
<ellipse cx="139.90" cy="175.46" rx="1.25" ry="1.20" fill="#888" opacity="0.3" filter="url(#bl5)"/>
<ellipse cx="140.13" cy="179.52" rx="0.79" ry="1.38" fill="#888" opacity="0.3" filter="url(#bl5)"/>
<ellipse cx="141.49" cy="184.85" rx="1.22" ry="1.50" fill="#fff" opacity="0.6" filter="url(#bl5)"/>
<ellipse cx="141.39" cy="180.60" rx="1.22" ry="1.50" fill="#fff" opacity="0.6" filter="url(#bl5)"/>
<path d="M139.02,189.30 L138.34,191.20 M143.78,189.30 L144.46,191.20 M141.40,189.00 L141.40,192.20" stroke="#5a5a5a" stroke-width="0.6" fill="none" filter="url(#bl4)"/>
<path d="M149.50,170.20 Q151.00,170.20 151.54,172.08 Q152.90,174.71 152.90,178.10 L152.90,184.86 Q152.90,189.00 151.20,189.00 L147.80,189.00 Q146.10,189.00 146.10,184.86 L146.10,178.10 Q146.10,174.71 147.46,172.08 Q148.00,170.20 149.50,170.20 Z" fill="url(#mg2)" filter="url(#bl5)"/>
<ellipse cx="150.41" cy="178.09" rx="0.80" ry="1.58" fill="#888" opacity="0.3" filter="url(#bl5)"/>
<ellipse cx="149.36" cy="173.80" rx="0.95" ry="1.22" fill="#888" opacity="0.3" filter="url(#bl5)"/>
<ellipse cx="148.28" cy="173.61" rx="1.14" ry="1.35" fill="#888" opacity="0.3" filter="url(#bl5)"/>
<ellipse cx="148.23" cy="177.58" rx="0.70" ry="1.59" fill="#888" opacity="0.3" filter="url(#bl5)"/>
<ellipse cx="149.82" cy="172.58" rx="1.01" ry="1.31" fill="#888" opacity="0.3" filter="url(#bl5)"/>
<ellipse cx="148.70" cy="182.16" rx="1.22" ry="1.50" fill="#fff" opacity="0.6" filter="url(#bl5)"/>
<ellipse cx="149.80" cy="184.72" rx="1.22" ry="1.50" fill="#fff" opacity="0.6" filter="url(#bl5)"/>
<path d="M147.12,189.30 L146.44,191.20 M151.88,189.30 L152.56,191.20 M149.50,189.00 L149.50,192.20" stroke="#5a5a5a" stroke-width="0.6" fill="none" filter="url(#bl4)"/>
<rect x="31.2" y="193.9" width="60.30" height="24.10" fill="#222"/>
<rect x="31.2" y="214.80" width="60.30" height="2.6" fill="#2c2c2c" filter="url(#bl5)"/>
<line x1="39.12" y1="194.40" x2="39.12" y2="217.50" stroke="#3a3a3a" stroke-width="0.6"/>
<line x1="47.75" y1="194.40" x2="47.75" y2="217.50" stroke="#3a3a3a" stroke-width="0.6"/>
<line x1="56.83" y1="194.40" x2="56.83" y2="217.50" stroke="#3a3a3a" stroke-width="0.6"/>
<line x1="65.25" y1="194.40" x2="65.25" y2="217.50" stroke="#3a3a3a" stroke-width="0.6"/>
<line x1="74.00" y1="194.40" x2="74.00" y2="217.50" stroke="#3a3a3a" stroke-width="0.6"/>
<line x1="82.58" y1="194.40" x2="82.58" y2="217.50" stroke="#3a3a3a" stroke-width="0.6"/>
<path d="M35.50,196.40 Q37.00,196.40 37.54,198.24 Q38.90,200.82 38.90,204.13 L38.90,210.75 Q38.90,214.80 37.20,214.80 L33.80,214.80 Q32.10,214.80 32.10,210.75 L32.10,204.13 Q32.10,200.82 33.46,198.24 Q34.00,196.40 35.50,196.40 Z" fill="url(#mg2)" filter="url(#bl5)"/>
<ellipse cx="37.03" cy="204.14" rx="0.71" ry="1.18" fill="#888" opacity="0.3" filter="url(#bl5)"/>
<ellipse cx="36.04" cy="202.54" rx="0.76" ry="1.33" fill="#888" opacity="0.3" filter="url(#bl5)"/>
<ellipse cx="36.20" cy="201.77" rx="1.02" ry="1.22" fill="#888" opacity="0.3" filter="url(#bl5)"/>
<ellipse cx="36.33" cy="206.52" rx="0.93" ry="1.64" fill="#888" opacity="0.3" filter="url(#bl5)"/>
<ellipse cx="34.78" cy="208.96" rx="1.09" ry="1.48" fill="#888" opacity="0.3" filter="url(#bl5)"/>
<ellipse cx="34.73" cy="210.19" rx="1.22" ry="1.47" fill="#fff" opacity="0.6" filter="url(#bl5)"/>
<ellipse cx="34.15" cy="207.73" rx="1.22" ry="1.47" fill="#fff" opacity="0.6" filter="url(#bl5)"/>
<path d="M33.12,215.10 L32.44,217.00 M37.88,215.10 L38.56,217.00 M35.50,214.80 L35.50,218.00" stroke="#5a5a5a" stroke-width="0.6" fill="none" filter="url(#bl4)"/>
<path d="M42.75,196.40 Q44.25,196.40 44.79,198.24 Q46.15,200.82 46.15,204.13 L46.15,210.75 Q46.15,214.80 44.45,214.80 L41.05,214.80 Q39.35,214.80 39.35,210.75 L39.35,204.13 Q39.35,200.82 40.71,198.24 Q41.25,196.40 42.75,196.40 Z" fill="url(#mg2)" filter="url(#bl5)"/>
<ellipse cx="44.45" cy="205.45" rx="0.74" ry="1.55" fill="#888" opacity="0.3" filter="url(#bl5)"/>
<ellipse cx="42.81" cy="206.31" rx="1.10" ry="1.26" fill="#888" opacity="0.3" filter="url(#bl5)"/>
<ellipse cx="43.48" cy="205.05" rx="1.31" ry="0.92" fill="#888" opacity="0.3" filter="url(#bl5)"/>
<ellipse cx="40.85" cy="204.45" rx="1.35" ry="1.63" fill="#888" opacity="0.3" filter="url(#bl5)"/>
<ellipse cx="43.66" cy="200.93" rx="0.68" ry="1.28" fill="#888" opacity="0.3" filter="url(#bl5)"/>
<ellipse cx="42.37" cy="207.74" rx="1.22" ry="1.47" fill="#fff" opacity="0.6" filter="url(#bl5)"/>
<ellipse cx="43.74" cy="207.82" rx="1.22" ry="1.47" fill="#fff" opacity="0.6" filter="url(#bl5)"/>
<path d="M40.37,215.10 L39.69,217.00 M45.13,215.10 L45.81,217.00 M42.75,214.80 L42.75,218.00" stroke="#5a5a5a" stroke-width="0.6" fill="none" filter="url(#bl4)"/>
<path d="M52.75,196.40 Q54.25,196.40 54.79,198.24 Q56.15,200.82 56.15,204.13 L56.15,210.75 Q56.15,214.80 54.45,214.80 L51.05,214.80 Q49.35,214.80 49.35,210.75 L49.35,204.13 Q49.35,200.82 50.71,198.24 Q51.25,196.40 52.75,196.40 Z" fill="url(#mg2)" filter="url(#bl5)"/>
<ellipse cx="51.60" cy="204.98" rx="1.13" ry="1.40" fill="#888" opacity="0.3" filter="url(#bl5)"/>
<ellipse cx="51.21" cy="205.51" rx="1.35" ry="1.22" fill="#888" opacity="0.3" filter="url(#bl5)"/>
<ellipse cx="52.74" cy="206.46" rx="1.22" ry="1.49" fill="#888" opacity="0.3" filter="url(#bl5)"/>
<ellipse cx="53.77" cy="201.66" rx="0.82" ry="1.53" fill="#888" opacity="0.3" filter="url(#bl5)"/>
<ellipse cx="54.44" cy="208.73" rx="1.12" ry="1.60" fill="#888" opacity="0.3" filter="url(#bl5)"/>
<ellipse cx="53.56" cy="209.71" rx="1.22" ry="1.47" fill="#fff" opacity="0.6" filter="url(#bl5)"/>
<ellipse cx="52.81" cy="206.89" rx="1.22" ry="1.47" fill="#fff" opacity="0.6" filter="url(#bl5)"/>
<path d="M50.37,215.10 L49.69,217.00 M55.13,215.10 L55.81,217.00 M52.75,214.80 L52.75,218.00" stroke="#5a5a5a" stroke-width="0.6" fill="none" filter="url(#bl4)"/>
<path d="M60.90,196.40 Q62.40,196.40 62.94,198.24 Q64.30,200.82 64.30,204.13 L64.30,210.75 Q64.30,214.80 62.60,214.80 L59.20,214.80 Q57.50,214.80 57.50,210.75 L57.50,204.13 Q57.50,200.82 58.86,198.24 Q59.40,196.40 60.90,196.40 Z" fill="url(#mg2)" filter="url(#bl5)"/>
<ellipse cx="61.42" cy="201.06" rx="1.13" ry="1.23" fill="#888" opacity="0.3" filter="url(#bl5)"/>
<ellipse cx="59.45" cy="200.93" rx="1.31" ry="1.30" fill="#888" opacity="0.3" filter="url(#bl5)"/>
<ellipse cx="59.57" cy="208.88" rx="1.31" ry="1.63" fill="#888" opacity="0.3" filter="url(#bl5)"/>
<ellipse cx="61.30" cy="207.28" rx="1.27" ry="1.06" fill="#888" opacity="0.3" filter="url(#bl5)"/>
<ellipse cx="61.62" cy="207.73" rx="1.22" ry="1.42" fill="#888" opacity="0.3" filter="url(#bl5)"/>
<ellipse cx="62.40" cy="207.74" rx="1.22" ry="1.47" fill="#fff" opacity="0.6" filter="url(#bl5)"/>
<ellipse cx="60.24" cy="209.05" rx="1.22" ry="1.47" fill="#fff" opacity="0.6" filter="url(#bl5)"/>
<path d="M58.52,215.10 L57.84,217.00 M63.28,215.10 L63.96,217.00 M60.90,214.80 L60.90,218.00" stroke="#5a5a5a" stroke-width="0.6" fill="none" filter="url(#bl4)"/>
<path d="M69.60,196.40 Q71.10,196.40 71.64,198.24 Q73.00,200.82 73.00,204.13 L73.00,210.75 Q73.00,214.80 71.30,214.80 L67.90,214.80 Q66.20,214.80 66.20,210.75 L66.20,204.13 Q66.20,200.82 67.56,198.24 Q68.10,196.40 69.60,196.40 Z" fill="url(#mg2)" filter="url(#bl5)"/>
<ellipse cx="67.61" cy="201.65" rx="0.83" ry="1.25" fill="#888" opacity="0.3" filter="url(#bl5)"/>
<ellipse cx="70.18" cy="198.66" rx="1.12" ry="1.08" fill="#888" opacity="0.3" filter="url(#bl5)"/>
<ellipse cx="70.44" cy="202.84" rx="1.26" ry="1.06" fill="#888" opacity="0.3" filter="url(#bl5)"/>
<ellipse cx="69.34" cy="200.72" rx="1.12" ry="0.97" fill="#888" opacity="0.3" filter="url(#bl5)"/>
<ellipse cx="70.90" cy="207.77" rx="1.34" ry="1.09" fill="#888" opacity="0.3" filter="url(#bl5)"/>
<ellipse cx="70.20" cy="206.69" rx="1.22" ry="1.47" fill="#fff" opacity="0.6" filter="url(#bl5)"/>
<ellipse cx="69.50" cy="205.93" rx="1.22" ry="1.47" fill="#fff" opacity="0.6" filter="url(#bl5)"/>
<path d="M67.22,215.10 L66.54,217.00 M71.98,215.10 L72.66,217.00 M69.60,214.80 L69.60,218.00" stroke="#5a5a5a" stroke-width="0.6" fill="none" filter="url(#bl4)"/>
<path d="M78.40,196.40 Q79.90,196.40 80.44,198.24 Q81.80,200.82 81.80,204.13 L81.80,210.75 Q81.80,214.80 80.10,214.80 L76.70,214.80 Q75.00,214.80 75.00,210.75 L75.00,204.13 Q75.00,200.82 76.36,198.24 Q76.90,196.40 78.40,196.40 Z" fill="url(#mg2)" filter="url(#bl5)"/>
<ellipse cx="79.97" cy="201.16" rx="0.83" ry="1.51" fill="#888" opacity="0.3" filter="url(#bl5)"/>
<ellipse cx="79.43" cy="207.94" rx="1.07" ry="1.00" fill="#888" opacity="0.3" filter="url(#bl5)"/>
<ellipse cx="76.84" cy="202.93" rx="1.07" ry="0.93" fill="#888" opacity="0.3" filter="url(#bl5)"/>
<ellipse cx="76.49" cy="205.30" rx="1.14" ry="1.07" fill="#888" opacity="0.3" filter="url(#bl5)"/>
<ellipse cx="76.69" cy="205.64" rx="1.09" ry="1.44" fill="#888" opacity="0.3" filter="url(#bl5)"/>
<ellipse cx="77.19" cy="209.92" rx="1.22" ry="1.47" fill="#fff" opacity="0.6" filter="url(#bl5)"/>
<ellipse cx="79.60" cy="211.12" rx="1.22" ry="1.47" fill="#fff" opacity="0.6" filter="url(#bl5)"/>
<path d="M76.02,215.10 L75.34,217.00 M80.78,215.10 L81.46,217.00 M78.40,214.80 L78.40,218.00" stroke="#5a5a5a" stroke-width="0.6" fill="none" filter="url(#bl4)"/>
<path d="M86.75,196.40 Q88.25,196.40 88.79,198.24 Q90.15,200.82 90.15,204.13 L90.15,210.75 Q90.15,214.80 88.45,214.80 L85.05,214.80 Q83.35,214.80 83.35,210.75 L83.35,204.13 Q83.35,200.82 84.71,198.24 Q85.25,196.40 86.75,196.40 Z" fill="url(#mg2)" filter="url(#bl5)"/>
<ellipse cx="85.28" cy="203.41" rx="1.33" ry="1.29" fill="#888" opacity="0.3" filter="url(#bl5)"/>
<ellipse cx="85.36" cy="200.29" rx="0.69" ry="0.97" fill="#888" opacity="0.3" filter="url(#bl5)"/>
<ellipse cx="84.94" cy="207.33" rx="0.70" ry="1.30" fill="#888" opacity="0.3" filter="url(#bl5)"/>
<ellipse cx="86.74" cy="202.60" rx="1.23" ry="1.37" fill="#888" opacity="0.3" filter="url(#bl5)"/>
<ellipse cx="87.39" cy="200.50" rx="0.81" ry="0.98" fill="#888" opacity="0.3" filter="url(#bl5)"/>
<ellipse cx="85.67" cy="210.35" rx="1.22" ry="1.47" fill="#fff" opacity="0.6" filter="url(#bl5)"/>
<ellipse cx="85.66" cy="209.51" rx="1.22" ry="1.47" fill="#fff" opacity="0.6" filter="url(#bl5)"/>
<path d="M84.37,215.10 L83.69,217.00 M89.13,215.10 L89.81,217.00 M86.75,214.80 L86.75,218.00" stroke="#5a5a5a" stroke-width="0.6" fill="none" filter="url(#bl4)"/>
<rect x="94.25" y="193.9" width="60.25" height="24.10" fill="#222"/>
<rect x="94.25" y="214.80" width="60.25" height="2.6" fill="#2c2c2c" filter="url(#bl5)"/>
<line x1="102.62" y1="194.40" x2="102.62" y2="217.50" stroke="#3a3a3a" stroke-width="0.6"/>
<line x1="111.38" y1="194.40" x2="111.38" y2="217.50" stroke="#3a3a3a" stroke-width="0.6"/>
<line x1="119.83" y1="194.40" x2="119.83" y2="217.50" stroke="#3a3a3a" stroke-width="0.6"/>
<line x1="127.83" y1="194.40" x2="127.83" y2="217.50" stroke="#3a3a3a" stroke-width="0.6"/>
<line x1="136.25" y1="194.40" x2="136.25" y2="217.50" stroke="#3a3a3a" stroke-width="0.6"/>
<line x1="145.00" y1="194.40" x2="145.00" y2="217.50" stroke="#3a3a3a" stroke-width="0.6"/>
<path d="M98.25,196.40 Q99.75,196.40 100.29,198.24 Q101.65,200.82 101.65,204.13 L101.65,210.75 Q101.65,214.80 99.95,214.80 L96.55,214.80 Q94.85,214.80 94.85,210.75 L94.85,204.13 Q94.85,200.82 96.21,198.24 Q96.75,196.40 98.25,196.40 Z" fill="url(#mg2)" filter="url(#bl5)"/>
<ellipse cx="98.56" cy="206.74" rx="0.78" ry="1.52" fill="#888" opacity="0.3" filter="url(#bl5)"/>
<ellipse cx="97.83" cy="206.30" rx="1.19" ry="0.96" fill="#888" opacity="0.3" filter="url(#bl5)"/>
<ellipse cx="97.67" cy="203.31" rx="1.02" ry="1.29" fill="#888" opacity="0.3" filter="url(#bl5)"/>
<ellipse cx="96.64" cy="205.57" rx="0.82" ry="1.27" fill="#888" opacity="0.3" filter="url(#bl5)"/>
<ellipse cx="99.92" cy="205.79" rx="0.70" ry="1.50" fill="#888" opacity="0.3" filter="url(#bl5)"/>
<ellipse cx="98.39" cy="208.56" rx="1.22" ry="1.47" fill="#fff" opacity="0.6" filter="url(#bl5)"/>
<ellipse cx="99.51" cy="207.24" rx="1.22" ry="1.47" fill="#fff" opacity="0.6" filter="url(#bl5)"/>
<path d="M95.87,215.10 L95.19,217.00 M100.63,215.10 L101.31,217.00 M98.25,214.80 L98.25,218.00" stroke="#5a5a5a" stroke-width="0.6" fill="none" filter="url(#bl4)"/>
<path d="M107.00,196.40 Q108.50,196.40 109.04,198.24 Q110.40,200.82 110.40,204.13 L110.40,210.75 Q110.40,214.80 108.70,214.80 L105.30,214.80 Q103.60,214.80 103.60,210.75 L103.60,204.13 Q103.60,200.82 104.96,198.24 Q105.50,196.40 107.00,196.40 Z" fill="url(#mg2)" filter="url(#bl5)"/>
<ellipse cx="105.70" cy="205.67" rx="0.99" ry="1.43" fill="#888" opacity="0.3" filter="url(#bl5)"/>
<ellipse cx="105.82" cy="202.34" rx="1.25" ry="1.31" fill="#888" opacity="0.3" filter="url(#bl5)"/>
<ellipse cx="108.40" cy="204.35" rx="0.85" ry="1.01" fill="#888" opacity="0.3" filter="url(#bl5)"/>
<ellipse cx="105.24" cy="209.11" rx="1.18" ry="0.97" fill="#888" opacity="0.3" filter="url(#bl5)"/>
<ellipse cx="105.17" cy="206.74" rx="1.27" ry="1.61" fill="#888" opacity="0.3" filter="url(#bl5)"/>
<ellipse cx="106.32" cy="206.19" rx="1.22" ry="1.47" fill="#fff" opacity="0.6" filter="url(#bl5)"/>
<ellipse cx="107.89" cy="208.23" rx="1.22" ry="1.47" fill="#fff" opacity="0.6" filter="url(#bl5)"/>
<path d="M104.62,215.10 L103.94,217.00 M109.38,215.10 L110.06,217.00 M107.00,214.80 L107.00,218.00" stroke="#5a5a5a" stroke-width="0.6" fill="none" filter="url(#bl4)"/>
<path d="M115.75,196.40 Q117.25,196.40 117.79,198.24 Q119.15,200.82 119.15,204.13 L119.15,210.75 Q119.15,214.80 117.45,214.80 L114.05,214.80 Q112.35,214.80 112.35,210.75 L112.35,204.13 Q112.35,200.82 113.71,198.24 Q114.25,196.40 115.75,196.40 Z" fill="url(#mg2)" filter="url(#bl5)"/>
<ellipse cx="115.18" cy="205.07" rx="1.04" ry="1.30" fill="#888" opacity="0.3" filter="url(#bl5)"/>
<ellipse cx="115.09" cy="203.84" rx="1.10" ry="0.94" fill="#888" opacity="0.3" filter="url(#bl5)"/>
<ellipse cx="114.85" cy="207.53" rx="1.25" ry="1.48" fill="#888" opacity="0.3" filter="url(#bl5)"/>
<ellipse cx="114.21" cy="204.59" rx="1.09" ry="1.41" fill="#888" opacity="0.3" filter="url(#bl5)"/>
<ellipse cx="117.12" cy="202.60" rx="0.96" ry="1.18" fill="#888" opacity="0.3" filter="url(#bl5)"/>
<ellipse cx="115.24" cy="209.16" rx="1.22" ry="1.47" fill="#fff" opacity="0.6" filter="url(#bl5)"/>
<ellipse cx="116.93" cy="210.04" rx="1.22" ry="1.47" fill="#fff" opacity="0.6" filter="url(#bl5)"/>
<path d="M113.37,215.10 L112.69,217.00 M118.13,215.10 L118.81,217.00 M115.75,214.80 L115.75,218.00" stroke="#5a5a5a" stroke-width="0.6" fill="none" filter="url(#bl4)"/>
<path d="M123.90,196.40 Q125.40,196.40 125.94,198.24 Q127.30,200.82 127.30,204.13 L127.30,210.75 Q127.30,214.80 125.60,214.80 L122.20,214.80 Q120.50,214.80 120.50,210.75 L120.50,204.13 Q120.50,200.82 121.86,198.24 Q122.40,196.40 123.90,196.40 Z" fill="url(#mg2)" filter="url(#bl5)"/>
<ellipse cx="125.17" cy="204.40" rx="1.33" ry="1.10" fill="#888" opacity="0.3" filter="url(#bl5)"/>
<ellipse cx="124.66" cy="204.08" rx="1.12" ry="1.10" fill="#888" opacity="0.3" filter="url(#bl5)"/>
<ellipse cx="122.57" cy="209.18" rx="1.30" ry="1.22" fill="#888" opacity="0.3" filter="url(#bl5)"/>
<ellipse cx="123.58" cy="208.30" rx="1.28" ry="1.24" fill="#888" opacity="0.3" filter="url(#bl5)"/>
<ellipse cx="124.35" cy="207.40" rx="0.69" ry="1.52" fill="#888" opacity="0.3" filter="url(#bl5)"/>
<ellipse cx="125.06" cy="205.73" rx="1.22" ry="1.47" fill="#fff" opacity="0.6" filter="url(#bl5)"/>
<ellipse cx="124.52" cy="207.34" rx="1.22" ry="1.47" fill="#fff" opacity="0.6" filter="url(#bl5)"/>
<path d="M121.52,215.10 L120.84,217.00 M126.28,215.10 L126.96,217.00 M123.90,214.80 L123.90,218.00" stroke="#5a5a5a" stroke-width="0.6" fill="none" filter="url(#bl4)"/>
<path d="M131.75,196.40 Q133.25,196.40 133.79,198.24 Q135.15,200.82 135.15,204.13 L135.15,210.75 Q135.15,214.80 133.45,214.80 L130.05,214.80 Q128.35,214.80 128.35,210.75 L128.35,204.13 Q128.35,200.82 129.71,198.24 Q130.25,196.40 131.75,196.40 Z" fill="url(#mg2)" filter="url(#bl5)"/>
<ellipse cx="130.79" cy="203.70" rx="1.01" ry="1.00" fill="#888" opacity="0.3" filter="url(#bl5)"/>
<ellipse cx="131.40" cy="200.82" rx="1.21" ry="1.57" fill="#888" opacity="0.3" filter="url(#bl5)"/>
<ellipse cx="131.59" cy="200.88" rx="0.91" ry="1.09" fill="#888" opacity="0.3" filter="url(#bl5)"/>
<ellipse cx="131.17" cy="207.78" rx="0.71" ry="1.20" fill="#888" opacity="0.3" filter="url(#bl5)"/>
<ellipse cx="131.35" cy="202.73" rx="0.98" ry="1.29" fill="#888" opacity="0.3" filter="url(#bl5)"/>
<ellipse cx="132.83" cy="208.80" rx="1.22" ry="1.47" fill="#fff" opacity="0.6" filter="url(#bl5)"/>
<ellipse cx="131.60" cy="209.55" rx="1.22" ry="1.47" fill="#fff" opacity="0.6" filter="url(#bl5)"/>
<path d="M129.37,215.10 L128.69,217.00 M134.13,215.10 L134.81,217.00 M131.75,214.80 L131.75,218.00" stroke="#5a5a5a" stroke-width="0.6" fill="none" filter="url(#bl4)"/>
<path d="M140.75,196.40 Q142.25,196.40 142.79,198.24 Q144.15,200.82 144.15,204.13 L144.15,210.75 Q144.15,214.80 142.45,214.80 L139.05,214.80 Q137.35,214.80 137.35,210.75 L137.35,204.13 Q137.35,200.82 138.71,198.24 Q139.25,196.40 140.75,196.40 Z" fill="url(#mg2)" filter="url(#bl5)"/>
<ellipse cx="140.30" cy="207.32" rx="1.17" ry="1.60" fill="#888" opacity="0.3" filter="url(#bl5)"/>
<ellipse cx="138.72" cy="205.78" rx="1.02" ry="1.34" fill="#888" opacity="0.3" filter="url(#bl5)"/>
<ellipse cx="142.43" cy="204.66" rx="1.33" ry="1.06" fill="#888" opacity="0.3" filter="url(#bl5)"/>
<ellipse cx="142.71" cy="204.91" rx="0.69" ry="1.45" fill="#888" opacity="0.3" filter="url(#bl5)"/>
<ellipse cx="139.77" cy="199.71" rx="1.12" ry="1.01" fill="#888" opacity="0.3" filter="url(#bl5)"/>
<ellipse cx="142.04" cy="209.07" rx="1.22" ry="1.47" fill="#fff" opacity="0.6" filter="url(#bl5)"/>
<ellipse cx="140.31" cy="210.97" rx="1.22" ry="1.47" fill="#fff" opacity="0.6" filter="url(#bl5)"/>
<path d="M138.37,215.10 L137.69,217.00 M143.13,215.10 L143.81,217.00 M140.75,214.80 L140.75,218.00" stroke="#5a5a5a" stroke-width="0.6" fill="none" filter="url(#bl4)"/>
<path d="M149.25,196.40 Q150.75,196.40 151.29,198.24 Q152.65,200.82 152.65,204.13 L152.65,210.75 Q152.65,214.80 150.95,214.80 L147.55,214.80 Q145.85,214.80 145.85,210.75 L145.85,204.13 Q145.85,200.82 147.21,198.24 Q147.75,196.40 149.25,196.40 Z" fill="url(#mg2)" filter="url(#bl5)"/>
<ellipse cx="151.13" cy="199.62" rx="1.18" ry="1.56" fill="#888" opacity="0.3" filter="url(#bl5)"/>
<ellipse cx="150.66" cy="201.51" rx="0.84" ry="1.44" fill="#888" opacity="0.3" filter="url(#bl5)"/>
<ellipse cx="151.07" cy="208.12" rx="1.25" ry="1.49" fill="#888" opacity="0.3" filter="url(#bl5)"/>
<ellipse cx="150.93" cy="199.42" rx="1.20" ry="1.63" fill="#888" opacity="0.3" filter="url(#bl5)"/>
<ellipse cx="147.56" cy="206.73" rx="1.12" ry="1.26" fill="#888" opacity="0.3" filter="url(#bl5)"/>
<ellipse cx="150.63" cy="210.15" rx="1.22" ry="1.47" fill="#fff" opacity="0.6" filter="url(#bl5)"/>
<ellipse cx="149.13" cy="206.26" rx="1.22" ry="1.47" fill="#fff" opacity="0.6" filter="url(#bl5)"/>
<path d="M146.87,215.10 L146.19,217.00 M151.63,215.10 L152.31,217.00 M149.25,214.80 L149.25,218.00" stroke="#5a5a5a" stroke-width="0.6" fill="none" filter="url(#bl4)"/>
<rect x="31.2" y="219.9" width="60.30" height="23.60" fill="#222"/>
<rect x="31.2" y="240.30" width="60.30" height="2.6" fill="#2c2c2c" filter="url(#bl5)"/>
<line x1="39.83" y1="220.40" x2="39.83" y2="243.00" stroke="#3a3a3a" stroke-width="0.6"/>
<line x1="48.25" y1="220.40" x2="48.25" y2="243.00" stroke="#3a3a3a" stroke-width="0.6"/>
<line x1="56.83" y1="220.40" x2="56.83" y2="243.00" stroke="#3a3a3a" stroke-width="0.6"/>
<line x1="64.95" y1="220.40" x2="64.95" y2="243.00" stroke="#3a3a3a" stroke-width="0.6"/>
<line x1="73.38" y1="220.40" x2="73.38" y2="243.00" stroke="#3a3a3a" stroke-width="0.6"/>
<line x1="82.42" y1="220.40" x2="82.42" y2="243.00" stroke="#3a3a3a" stroke-width="0.6"/>
<path d="M35.90,222.40 Q37.40,222.40 37.94,224.19 Q39.30,226.70 39.30,229.92 L39.30,236.36 Q39.30,240.30 37.60,240.30 L34.20,240.30 Q32.50,240.30 32.50,236.36 L32.50,229.92 Q32.50,226.70 33.86,224.19 Q34.40,222.40 35.90,222.40 Z" fill="url(#mg2)" filter="url(#bl5)"/>
<ellipse cx="36.07" cy="231.89" rx="0.69" ry="1.34" fill="#888" opacity="0.3" filter="url(#bl5)"/>
<ellipse cx="35.82" cy="225.40" rx="1.25" ry="0.99" fill="#888" opacity="0.3" filter="url(#bl5)"/>
<ellipse cx="36.64" cy="231.49" rx="1.23" ry="1.43" fill="#888" opacity="0.3" filter="url(#bl5)"/>
<ellipse cx="36.50" cy="232.75" rx="0.75" ry="1.27" fill="#888" opacity="0.3" filter="url(#bl5)"/>
<ellipse cx="36.06" cy="227.46" rx="1.24" ry="1.19" fill="#888" opacity="0.3" filter="url(#bl5)"/>
<ellipse cx="37.14" cy="236.88" rx="1.22" ry="1.43" fill="#fff" opacity="0.6" filter="url(#bl5)"/>
<ellipse cx="37.54" cy="235.05" rx="1.22" ry="1.43" fill="#fff" opacity="0.6" filter="url(#bl5)"/>
<path d="M33.52,240.60 L32.84,242.50 M38.28,240.60 L38.96,242.50 M35.90,240.30 L35.90,243.50" stroke="#5a5a5a" stroke-width="0.6" fill="none" filter="url(#bl4)"/>
<path d="M43.75,222.40 Q45.25,222.40 45.79,224.19 Q47.15,226.70 47.15,229.92 L47.15,236.36 Q47.15,240.30 45.45,240.30 L42.05,240.30 Q40.35,240.30 40.35,236.36 L40.35,229.92 Q40.35,226.70 41.71,224.19 Q42.25,222.40 43.75,222.40 Z" fill="url(#mg2)" filter="url(#bl5)"/>
<ellipse cx="42.46" cy="227.55" rx="1.32" ry="1.60" fill="#888" opacity="0.3" filter="url(#bl5)"/>
<ellipse cx="44.38" cy="229.97" rx="1.25" ry="0.93" fill="#888" opacity="0.3" filter="url(#bl5)"/>
<ellipse cx="44.36" cy="229.76" rx="1.20" ry="1.56" fill="#888" opacity="0.3" filter="url(#bl5)"/>
<ellipse cx="45.15" cy="232.96" rx="1.21" ry="1.32" fill="#888" opacity="0.3" filter="url(#bl5)"/>
<ellipse cx="41.88" cy="230.07" rx="1.30" ry="1.29" fill="#888" opacity="0.3" filter="url(#bl5)"/>
<ellipse cx="44.14" cy="237.51" rx="1.22" ry="1.43" fill="#fff" opacity="0.6" filter="url(#bl5)"/>
<ellipse cx="44.45" cy="231.84" rx="1.22" ry="1.43" fill="#fff" opacity="0.6" filter="url(#bl5)"/>
<path d="M41.37,240.60 L40.69,242.50 M46.13,240.60 L46.81,242.50 M43.75,240.30 L43.75,243.50" stroke="#5a5a5a" stroke-width="0.6" fill="none" filter="url(#bl4)"/>
<path d="M52.75,222.40 Q54.25,222.40 54.79,224.19 Q56.15,226.70 56.15,229.92 L56.15,236.36 Q56.15,240.30 54.45,240.30 L51.05,240.30 Q49.35,240.30 49.35,236.36 L49.35,229.92 Q49.35,226.70 50.71,224.19 Q51.25,222.40 52.75,222.40 Z" fill="url(#mg2)" filter="url(#bl5)"/>
<ellipse cx="53.17" cy="234.93" rx="0.86" ry="1.31" fill="#888" opacity="0.3" filter="url(#bl5)"/>
<ellipse cx="54.72" cy="229.10" rx="0.97" ry="1.17" fill="#888" opacity="0.3" filter="url(#bl5)"/>
<ellipse cx="51.10" cy="230.64" rx="0.70" ry="1.33" fill="#888" opacity="0.3" filter="url(#bl5)"/>
<ellipse cx="52.12" cy="225.45" rx="1.12" ry="1.03" fill="#888" opacity="0.3" filter="url(#bl5)"/>
<ellipse cx="50.77" cy="228.21" rx="1.11" ry="1.18" fill="#888" opacity="0.3" filter="url(#bl5)"/>
<ellipse cx="51.33" cy="236.10" rx="1.22" ry="1.43" fill="#fff" opacity="0.6" filter="url(#bl5)"/>
<ellipse cx="53.45" cy="235.01" rx="1.22" ry="1.43" fill="#fff" opacity="0.6" filter="url(#bl5)"/>
<path d="M50.37,240.60 L49.69,242.50 M55.13,240.60 L55.81,242.50 M52.75,240.30 L52.75,243.50" stroke="#5a5a5a" stroke-width="0.6" fill="none" filter="url(#bl4)"/>
<path d="M60.90,222.40 Q62.40,222.40 62.94,224.19 Q64.30,226.70 64.30,229.92 L64.30,236.36 Q64.30,240.30 62.60,240.30 L59.20,240.30 Q57.50,240.30 57.50,236.36 L57.50,229.92 Q57.50,226.70 58.86,224.19 Q59.40,222.40 60.90,222.40 Z" fill="url(#mg2)" filter="url(#bl5)"/>
<ellipse cx="59.73" cy="233.91" rx="1.07" ry="0.99" fill="#888" opacity="0.3" filter="url(#bl5)"/>
<ellipse cx="61.15" cy="228.45" rx="1.08" ry="1.36" fill="#888" opacity="0.3" filter="url(#bl5)"/>
<ellipse cx="62.64" cy="224.57" rx="0.91" ry="1.08" fill="#888" opacity="0.3" filter="url(#bl5)"/>
<ellipse cx="61.03" cy="229.00" rx="0.90" ry="0.92" fill="#888" opacity="0.3" filter="url(#bl5)"/>
<ellipse cx="62.93" cy="232.74" rx="0.78" ry="0.95" fill="#888" opacity="0.3" filter="url(#bl5)"/>
<ellipse cx="59.84" cy="234.37" rx="1.22" ry="1.43" fill="#fff" opacity="0.6" filter="url(#bl5)"/>
<ellipse cx="61.31" cy="232.55" rx="1.22" ry="1.43" fill="#fff" opacity="0.6" filter="url(#bl5)"/>
<path d="M58.52,240.60 L57.84,242.50 M63.28,240.60 L63.96,242.50 M60.90,240.30 L60.90,243.50" stroke="#5a5a5a" stroke-width="0.6" fill="none" filter="url(#bl4)"/>
<path d="M69.00,222.40 Q70.50,222.40 71.04,224.19 Q72.40,226.70 72.40,229.92 L72.40,236.36 Q72.40,240.30 70.70,240.30 L67.30,240.30 Q65.60,240.30 65.60,236.36 L65.60,229.92 Q65.60,226.70 66.96,224.19 Q67.50,222.40 69.00,222.40 Z" fill="url(#mg2)" filter="url(#bl5)"/>
<ellipse cx="69.43" cy="233.37" rx="0.84" ry="1.60" fill="#888" opacity="0.3" filter="url(#bl5)"/>
<ellipse cx="67.51" cy="227.64" rx="1.12" ry="1.46" fill="#888" opacity="0.3" filter="url(#bl5)"/>
<ellipse cx="68.78" cy="229.20" rx="0.98" ry="1.33" fill="#888" opacity="0.3" filter="url(#bl5)"/>
<ellipse cx="69.40" cy="225.03" rx="1.15" ry="1.31" fill="#888" opacity="0.3" filter="url(#bl5)"/>
<ellipse cx="69.85" cy="224.26" rx="1.09" ry="1.51" fill="#888" opacity="0.3" filter="url(#bl5)"/>
<ellipse cx="70.30" cy="231.35" rx="1.22" ry="1.43" fill="#fff" opacity="0.6" filter="url(#bl5)"/>
<ellipse cx="68.74" cy="236.70" rx="1.22" ry="1.43" fill="#fff" opacity="0.6" filter="url(#bl5)"/>
<path d="M66.62,240.60 L65.94,242.50 M71.38,240.60 L72.06,242.50 M69.00,240.30 L69.00,243.50" stroke="#5a5a5a" stroke-width="0.6" fill="none" filter="url(#bl4)"/>
<path d="M77.75,222.40 Q79.25,222.40 79.79,224.19 Q81.15,226.70 81.15,229.92 L81.15,236.36 Q81.15,240.30 79.45,240.30 L76.05,240.30 Q74.35,240.30 74.35,236.36 L74.35,229.92 Q74.35,226.70 75.71,224.19 Q76.25,222.40 77.75,222.40 Z" fill="url(#mg2)" filter="url(#bl5)"/>
<ellipse cx="78.18" cy="228.04" rx="1.01" ry="1.57" fill="#888" opacity="0.3" filter="url(#bl5)"/>
<ellipse cx="77.48" cy="226.22" rx="1.01" ry="1.09" fill="#888" opacity="0.3" filter="url(#bl5)"/>
<ellipse cx="75.97" cy="230.67" rx="1.20" ry="1.40" fill="#888" opacity="0.3" filter="url(#bl5)"/>
<ellipse cx="77.64" cy="224.26" rx="1.03" ry="1.53" fill="#888" opacity="0.3" filter="url(#bl5)"/>
<ellipse cx="79.44" cy="225.33" rx="1.04" ry="0.96" fill="#888" opacity="0.3" filter="url(#bl5)"/>
<ellipse cx="79.16" cy="232.38" rx="1.22" ry="1.43" fill="#fff" opacity="0.6" filter="url(#bl5)"/>
<ellipse cx="79.19" cy="234.86" rx="1.22" ry="1.43" fill="#fff" opacity="0.6" filter="url(#bl5)"/>
<path d="M75.37,240.60 L74.69,242.50 M80.13,240.60 L80.81,242.50 M77.75,240.30 L77.75,243.50" stroke="#5a5a5a" stroke-width="0.6" fill="none" filter="url(#bl4)"/>
<path d="M87.10,222.40 Q88.60,222.40 89.14,224.19 Q90.50,226.70 90.50,229.92 L90.50,236.36 Q90.50,240.30 88.80,240.30 L85.40,240.30 Q83.70,240.30 83.70,236.36 L83.70,229.92 Q83.70,226.70 85.06,224.19 Q85.60,222.40 87.10,222.40 Z" fill="url(#mg2)" filter="url(#bl5)"/>
<ellipse cx="85.65" cy="224.41" rx="1.34" ry="1.46" fill="#888" opacity="0.3" filter="url(#bl5)"/>
<ellipse cx="86.57" cy="234.32" rx="0.73" ry="1.46" fill="#888" opacity="0.3" filter="url(#bl5)"/>
<ellipse cx="86.47" cy="225.42" rx="1.21" ry="1.24" fill="#888" opacity="0.3" filter="url(#bl5)"/>
<ellipse cx="88.88" cy="227.52" rx="0.87" ry="1.27" fill="#888" opacity="0.3" filter="url(#bl5)"/>
<ellipse cx="88.65" cy="226.18" rx="0.96" ry="1.03" fill="#888" opacity="0.3" filter="url(#bl5)"/>
<ellipse cx="87.20" cy="237.37" rx="1.22" ry="1.43" fill="#fff" opacity="0.6" filter="url(#bl5)"/>
<ellipse cx="86.43" cy="235.86" rx="1.22" ry="1.43" fill="#fff" opacity="0.6" filter="url(#bl5)"/>
<path d="M84.72,240.60 L84.04,242.50 M89.48,240.60 L90.16,242.50 M87.10,240.30 L87.10,243.50" stroke="#5a5a5a" stroke-width="0.6" fill="none" filter="url(#bl4)"/>
<rect x="94.25" y="219.9" width="60.25" height="23.60" fill="#222"/>
<rect x="94.25" y="240.30" width="60.25" height="2.6" fill="#2c2c2c" filter="url(#bl5)"/>
<line x1="102.92" y1="220.40" x2="102.92" y2="243.00" stroke="#3a3a3a" stroke-width="0.6"/>
<line x1="111.67" y1="220.40" x2="111.67" y2="243.00" stroke="#3a3a3a" stroke-width="0.6"/>
<line x1="119.83" y1="220.40" x2="119.83" y2="243.00" stroke="#3a3a3a" stroke-width="0.6"/>
<line x1="127.95" y1="220.40" x2="127.95" y2="243.00" stroke="#3a3a3a" stroke-width="0.6"/>
<line x1="136.38" y1="220.40" x2="136.38" y2="243.00" stroke="#3a3a3a" stroke-width="0.6"/>
<line x1="145.00" y1="220.40" x2="145.00" y2="243.00" stroke="#3a3a3a" stroke-width="0.6"/>
<path d="M98.25,222.40 Q99.75,222.40 100.29,224.19 Q101.65,226.70 101.65,229.92 L101.65,236.36 Q101.65,240.30 99.95,240.30 L96.55,240.30 Q94.85,240.30 94.85,236.36 L94.85,229.92 Q94.85,226.70 96.21,224.19 Q96.75,222.40 98.25,222.40 Z" fill="url(#mg2)" filter="url(#bl5)"/>
<ellipse cx="98.16" cy="226.97" rx="1.24" ry="1.45" fill="#888" opacity="0.3" filter="url(#bl5)"/>
<ellipse cx="100.22" cy="228.36" rx="1.35" ry="1.09" fill="#888" opacity="0.3" filter="url(#bl5)"/>
<ellipse cx="96.47" cy="232.88" rx="1.03" ry="0.90" fill="#888" opacity="0.3" filter="url(#bl5)"/>
<ellipse cx="97.17" cy="229.96" rx="1.08" ry="1.58" fill="#888" opacity="0.3" filter="url(#bl5)"/>
<ellipse cx="98.47" cy="232.34" rx="0.98" ry="1.37" fill="#888" opacity="0.3" filter="url(#bl5)"/>
<ellipse cx="96.75" cy="237.24" rx="1.22" ry="1.43" fill="#fff" opacity="0.6" filter="url(#bl5)"/>
<ellipse cx="96.57" cy="237.15" rx="1.22" ry="1.43" fill="#fff" opacity="0.6" filter="url(#bl5)"/>
<path d="M95.87,240.60 L95.19,242.50 M100.63,240.60 L101.31,242.50 M98.25,240.30 L98.25,243.50" stroke="#5a5a5a" stroke-width="0.6" fill="none" filter="url(#bl4)"/>
<path d="M107.60,222.40 Q109.10,222.40 109.64,224.19 Q111.00,226.70 111.00,229.92 L111.00,236.36 Q111.00,240.30 109.30,240.30 L105.90,240.30 Q104.20,240.30 104.20,236.36 L104.20,229.92 Q104.20,226.70 105.56,224.19 Q106.10,222.40 107.60,222.40 Z" fill="url(#mg2)" filter="url(#bl5)"/>
<ellipse cx="109.63" cy="229.91" rx="1.32" ry="0.97" fill="#888" opacity="0.3" filter="url(#bl5)"/>
<ellipse cx="107.41" cy="234.23" rx="0.96" ry="1.13" fill="#888" opacity="0.3" filter="url(#bl5)"/>
<ellipse cx="109.31" cy="224.96" rx="0.73" ry="1.16" fill="#888" opacity="0.3" filter="url(#bl5)"/>
<ellipse cx="107.22" cy="233.24" rx="1.27" ry="1.13" fill="#888" opacity="0.3" filter="url(#bl5)"/>
<ellipse cx="108.01" cy="227.69" rx="1.06" ry="1.33" fill="#888" opacity="0.3" filter="url(#bl5)"/>
<ellipse cx="106.73" cy="234.17" rx="1.22" ry="1.43" fill="#fff" opacity="0.6" filter="url(#bl5)"/>
<ellipse cx="108.02" cy="236.24" rx="1.22" ry="1.43" fill="#fff" opacity="0.6" filter="url(#bl5)"/>
<path d="M105.22,240.60 L104.54,242.50 M109.98,240.60 L110.66,242.50 M107.60,240.30 L107.60,243.50" stroke="#5a5a5a" stroke-width="0.6" fill="none" filter="url(#bl4)"/>
<path d="M115.75,222.40 Q117.25,222.40 117.79,224.19 Q119.15,226.70 119.15,229.92 L119.15,236.36 Q119.15,240.30 117.45,240.30 L114.05,240.30 Q112.35,240.30 112.35,236.36 L112.35,229.92 Q112.35,226.70 113.71,224.19 Q114.25,222.40 115.75,222.40 Z" fill="url(#mg2)" filter="url(#bl5)"/>
<ellipse cx="116.01" cy="230.53" rx="1.16" ry="1.40" fill="#888" opacity="0.3" filter="url(#bl5)"/>
<ellipse cx="116.46" cy="234.22" rx="1.19" ry="1.32" fill="#888" opacity="0.3" filter="url(#bl5)"/>
<ellipse cx="114.15" cy="225.55" rx="1.08" ry="1.09" fill="#888" opacity="0.3" filter="url(#bl5)"/>
<ellipse cx="116.57" cy="225.76" rx="1.31" ry="1.03" fill="#888" opacity="0.3" filter="url(#bl5)"/>
<ellipse cx="117.31" cy="229.16" rx="1.06" ry="1.58" fill="#888" opacity="0.3" filter="url(#bl5)"/>
<ellipse cx="117.39" cy="234.13" rx="1.22" ry="1.43" fill="#fff" opacity="0.6" filter="url(#bl5)"/>
<ellipse cx="115.76" cy="231.48" rx="1.22" ry="1.43" fill="#fff" opacity="0.6" filter="url(#bl5)"/>
<path d="M113.37,240.60 L112.69,242.50 M118.13,240.60 L118.81,242.50 M115.75,240.30 L115.75,243.50" stroke="#5a5a5a" stroke-width="0.6" fill="none" filter="url(#bl4)"/>
<path d="M123.90,222.40 Q125.40,222.40 125.94,224.19 Q127.30,226.70 127.30,229.92 L127.30,236.36 Q127.30,240.30 125.60,240.30 L122.20,240.30 Q120.50,240.30 120.50,236.36 L120.50,229.92 Q120.50,226.70 121.86,224.19 Q122.40,222.40 123.90,222.40 Z" fill="url(#mg2)" filter="url(#bl5)"/>
<ellipse cx="125.91" cy="226.48" rx="0.80" ry="1.06" fill="#888" opacity="0.3" filter="url(#bl5)"/>
<ellipse cx="124.72" cy="228.45" rx="0.90" ry="1.52" fill="#888" opacity="0.3" filter="url(#bl5)"/>
<ellipse cx="123.81" cy="224.19" rx="1.27" ry="1.46" fill="#888" opacity="0.3" filter="url(#bl5)"/>
<ellipse cx="125.88" cy="224.82" rx="0.83" ry="1.07" fill="#888" opacity="0.3" filter="url(#bl5)"/>
<ellipse cx="123.11" cy="228.02" rx="1.10" ry="1.30" fill="#888" opacity="0.3" filter="url(#bl5)"/>
<ellipse cx="124.67" cy="237.19" rx="1.22" ry="1.43" fill="#fff" opacity="0.6" filter="url(#bl5)"/>
<ellipse cx="123.22" cy="235.71" rx="1.22" ry="1.43" fill="#fff" opacity="0.6" filter="url(#bl5)"/>
<path d="M121.52,240.60 L120.84,242.50 M126.28,240.60 L126.96,242.50 M123.90,240.30 L123.90,243.50" stroke="#5a5a5a" stroke-width="0.6" fill="none" filter="url(#bl4)"/>
<path d="M132.00,222.40 Q133.50,222.40 134.04,224.19 Q135.40,226.70 135.40,229.92 L135.40,236.36 Q135.40,240.30 133.70,240.30 L130.30,240.30 Q128.60,240.30 128.60,236.36 L128.60,229.92 Q128.60,226.70 129.96,224.19 Q130.50,222.40 132.00,222.40 Z" fill="url(#mg2)" filter="url(#bl5)"/>
<ellipse cx="130.53" cy="225.77" rx="1.18" ry="1.16" fill="#888" opacity="0.3" filter="url(#bl5)"/>
<ellipse cx="131.65" cy="226.35" rx="1.03" ry="1.28" fill="#888" opacity="0.3" filter="url(#bl5)"/>
<ellipse cx="133.61" cy="230.06" rx="0.95" ry="1.56" fill="#888" opacity="0.3" filter="url(#bl5)"/>
<ellipse cx="133.10" cy="233.56" rx="0.89" ry="1.43" fill="#888" opacity="0.3" filter="url(#bl5)"/>
<ellipse cx="130.81" cy="224.57" rx="1.18" ry="1.53" fill="#888" opacity="0.3" filter="url(#bl5)"/>
<ellipse cx="131.05" cy="234.57" rx="1.22" ry="1.43" fill="#fff" opacity="0.6" filter="url(#bl5)"/>
<ellipse cx="133.62" cy="236.31" rx="1.22" ry="1.43" fill="#fff" opacity="0.6" filter="url(#bl5)"/>
<path d="M129.62,240.60 L128.94,242.50 M134.38,240.60 L135.06,242.50 M132.00,240.30 L132.00,243.50" stroke="#5a5a5a" stroke-width="0.6" fill="none" filter="url(#bl4)"/>
<path d="M140.75,222.40 Q142.25,222.40 142.79,224.19 Q144.15,226.70 144.15,229.92 L144.15,236.36 Q144.15,240.30 142.45,240.30 L139.05,240.30 Q137.35,240.30 137.35,236.36 L137.35,229.92 Q137.35,226.70 138.71,224.19 Q139.25,222.40 140.75,222.40 Z" fill="url(#mg2)" filter="url(#bl5)"/>
<ellipse cx="140.18" cy="226.04" rx="1.34" ry="1.04" fill="#888" opacity="0.3" filter="url(#bl5)"/>
<ellipse cx="141.50" cy="234.54" rx="0.74" ry="0.97" fill="#888" opacity="0.3" filter="url(#bl5)"/>
<ellipse cx="141.59" cy="224.72" rx="0.72" ry="1.13" fill="#888" opacity="0.3" filter="url(#bl5)"/>
<ellipse cx="140.53" cy="229.35" rx="1.33" ry="0.94" fill="#888" opacity="0.3" filter="url(#bl5)"/>
<ellipse cx="140.92" cy="224.71" rx="0.97" ry="1.37" fill="#888" opacity="0.3" filter="url(#bl5)"/>
<ellipse cx="141.47" cy="233.28" rx="1.22" ry="1.43" fill="#fff" opacity="0.6" filter="url(#bl5)"/>
<ellipse cx="140.79" cy="235.50" rx="1.22" ry="1.43" fill="#fff" opacity="0.6" filter="url(#bl5)"/>
<path d="M138.37,240.60 L137.69,242.50 M143.13,240.60 L143.81,242.50 M140.75,240.30 L140.75,243.50" stroke="#5a5a5a" stroke-width="0.6" fill="none" filter="url(#bl4)"/>
<path d="M149.25,222.40 Q150.75,222.40 151.29,224.19 Q152.65,226.70 152.65,229.92 L152.65,236.36 Q152.65,240.30 150.95,240.30 L147.55,240.30 Q145.85,240.30 145.85,236.36 L145.85,229.92 Q145.85,226.70 147.21,224.19 Q147.75,222.40 149.25,222.40 Z" fill="url(#mg2)" filter="url(#bl5)"/>
<ellipse cx="147.35" cy="226.56" rx="1.27" ry="1.35" fill="#888" opacity="0.3" filter="url(#bl5)"/>
<ellipse cx="148.52" cy="232.76" rx="1.27" ry="1.45" fill="#888" opacity="0.3" filter="url(#bl5)"/>
<ellipse cx="149.26" cy="233.85" rx="1.05" ry="1.11" fill="#888" opacity="0.3" filter="url(#bl5)"/>
<ellipse cx="148.07" cy="231.03" rx="0.77" ry="1.58" fill="#888" opacity="0.3" filter="url(#bl5)"/>
<ellipse cx="148.46" cy="226.36" rx="0.92" ry="1.56" fill="#888" opacity="0.3" filter="url(#bl5)"/>
<ellipse cx="149.06" cy="234.42" rx="1.22" ry="1.43" fill="#fff" opacity="0.6" filter="url(#bl5)"/>
<ellipse cx="148.15" cy="234.39" rx="1.22" ry="1.43" fill="#fff" opacity="0.6" filter="url(#bl5)"/>
<path d="M146.87,240.60 L146.19,242.50 M151.63,240.60 L152.31,242.50 M149.25,240.30 L149.25,243.50" stroke="#5a5a5a" stroke-width="0.6" fill="none" filter="url(#bl4)"/>
<ellipse cx="35.8" cy="180.5" rx="5.16" ry="4.99" fill="url(#hh)"/>
<ellipse cx="35.8" cy="180.5" rx="4.21" ry="4.21" fill="url(#hr)"/>
<ellipse cx="35.5" cy="170.5" rx="1.10" ry="1.10" fill="url(#hb)"/>
<ellipse cx="45.5" cy="183.5" rx="1.22" ry="1.22" fill="url(#hb)"/>
<ellipse cx="54" cy="178.5" rx="1.33" ry="1.33" fill="url(#hb)"/>
<ellipse cx="52.3" cy="183.6" rx="3.76" ry="2.96" fill="url(#hh)"/>
<ellipse cx="52.3" cy="183.6" rx="3.06" ry="2.48" fill="url(#hc)"/>
<ellipse cx="55.5" cy="183.8" rx="2.50" ry="2.43" fill="url(#hh)"/>
<ellipse cx="55.5" cy="183.8" rx="2.02" ry="2.02" fill="url(#hb)"/>
<ellipse cx="60.6" cy="182.5" rx="3.76" ry="3.64" fill="url(#hh)"/>
<ellipse cx="60.6" cy="182.5" rx="3.06" ry="3.06" fill="url(#hc)"/>
<ellipse cx="69" cy="183.75" rx="1.79" ry="1.79" fill="url(#hb)"/>
<ellipse cx="80.9" cy="173" rx="0.99" ry="0.99" fill="url(#hb)"/>
<ellipse cx="86.75" cy="180.25" rx="3.62" ry="3.50" fill="url(#hh)"/>
<ellipse cx="86.75" cy="180.25" rx="2.94" ry="2.94" fill="url(#hc)"/>
<ellipse cx="87.4" cy="186.5" rx="2.92" ry="2.83" fill="url(#hh)"/>
<ellipse cx="87.4" cy="186.5" rx="2.37" ry="2.37" fill="url(#hb)"/>
<ellipse cx="126.75" cy="182.25" rx="1.91" ry="1.91" fill="url(#hb)"/>
<ellipse cx="143.9" cy="179.75" rx="1.56" ry="1.56" fill="url(#hb)"/>
<ellipse cx="142.6" cy="182.25" rx="1.33" ry="1.33" fill="url(#hb)"/>
<ellipse cx="35.5" cy="198" rx="1.33" ry="1.33" fill="url(#hb)"/>
<ellipse cx="36.8" cy="207" rx="5.16" ry="5.53" fill="url(#hh)"/>
<ellipse cx="36.8" cy="207" rx="4.21" ry="4.67" fill="url(#hr)"/>
<ellipse cx="42.5" cy="207.5" rx="5.44" ry="7.83" fill="url(#hh)"/>
<ellipse cx="42.5" cy="207.5" rx="4.44" ry="6.62" fill="url(#hb)"/>
<ellipse cx="41.5" cy="204.8" rx="3.76" ry="3.64" fill="url(#hh)"/>
<ellipse cx="41.5" cy="204.8" rx="3.06" ry="3.06" fill="url(#hr)"/>
<ellipse cx="45.5" cy="204.5" rx="1.45" ry="1.45" fill="url(#hc)"/>
<ellipse cx="45.5" cy="209" rx="1.45" ry="1.45" fill="url(#hc)"/>
<ellipse cx="53.5" cy="200" rx="2.64" ry="2.56" fill="url(#hh)"/>
<ellipse cx="53.5" cy="200" rx="2.14" ry="2.14" fill="url(#hb)"/>
<ellipse cx="52.3" cy="210.8" rx="6.00" ry="7.15" fill="url(#hh)"/>
<ellipse cx="52.3" cy="210.8" rx="4.90" ry="6.05" fill="url(#hr)"/>
<ellipse cx="55" cy="210.6" rx="1.68" ry="1.68" fill="url(#hy)"/>
<ellipse cx="61" cy="207" rx="5.72" ry="7.83" fill="url(#hh)"/>
<ellipse cx="61" cy="207" rx="4.67" ry="6.62" fill="url(#hG)"/>
<ellipse cx="61" cy="208.5" rx="1.68" ry="1.68" fill="url(#hy)"/>
<ellipse cx="70" cy="207.5" rx="5.02" ry="6.21" fill="url(#hh)"/>
<ellipse cx="70" cy="207.5" rx="4.09" ry="5.24" fill="url(#hc)"/>
<ellipse cx="79.5" cy="197.5" rx="1.56" ry="1.56" fill="url(#hb)"/>
<ellipse cx="77.5" cy="211" rx="1.45" ry="1.45" fill="url(#hb)"/>
<ellipse cx="81.2" cy="206" rx="1.66" ry="3.10" fill="url(#hh)"/>
<ellipse cx="81.2" cy="206" rx="1.33" ry="2.60" fill="url(#hb)"/>
<ellipse cx="87" cy="206.5" rx="5.44" ry="7.83" fill="url(#hh)"/>
<ellipse cx="87" cy="206.5" rx="4.44" ry="6.62" fill="url(#hr)"/>
<ellipse cx="87.5" cy="211.5" rx="1.45" ry="1.45" fill="url(#hc)"/>
<ellipse cx="106.4" cy="202.9" rx="2.50" ry="2.43" fill="url(#hh)"/>
<ellipse cx="106.4" cy="202.9" rx="2.02" ry="2.02" fill="url(#hb)"/>
<ellipse cx="106.4" cy="205" rx="3.20" ry="3.10" fill="url(#hh)"/>
<ellipse cx="106.4" cy="205" rx="2.60" ry="2.60" fill="url(#hb)"/>
<ellipse cx="103" cy="209.75" rx="2.50" ry="2.43" fill="url(#hh)"/>
<ellipse cx="103" cy="209.75" rx="2.02" ry="2.02" fill="url(#hb)"/>
<ellipse cx="111.4" cy="207.9" rx="3.20" ry="3.10" fill="url(#hh)"/>
<ellipse cx="111.4" cy="207.9" rx="2.60" ry="2.60" fill="url(#hc)"/>
<ellipse cx="110.1" cy="210.4" rx="2.50" ry="2.43" fill="url(#hh)"/>
<ellipse cx="110.1" cy="210.4" rx="2.02" ry="2.02" fill="url(#hb)"/>
<ellipse cx="129.5" cy="206.6" rx="1.45" ry="1.45" fill="url(#hb)"/>
<ellipse cx="141.4" cy="208.5" rx="5.30" ry="5.13" fill="url(#hh)"/>
<ellipse cx="141.4" cy="208.5" rx="4.32" ry="4.32" fill="url(#hr)"/>
<ellipse cx="150.1" cy="198.5" rx="2.50" ry="2.43" fill="url(#hh)"/>
<ellipse cx="150.1" cy="198.5" rx="2.02" ry="2.02" fill="url(#hb)"/>
<ellipse cx="148.9" cy="211" rx="4.60" ry="4.45" fill="url(#hh)"/>
<ellipse cx="148.9" cy="211" rx="3.75" ry="3.75" fill="url(#hb)"/>
<ellipse cx="151.75" cy="211" rx="3.20" ry="3.10" fill="url(#hh)"/>
<ellipse cx="151.75" cy="211" rx="2.60" ry="2.60" fill="url(#hb)"/>
<ellipse cx="35.7" cy="234.5" rx="6.00" ry="10.53" fill="url(#hh)"/>
<ellipse cx="35.7" cy="234.5" rx="4.90" ry="8.93" fill="url(#hb)"/>
<ellipse cx="35" cy="222.8" rx="3.20" ry="3.10" fill="url(#hh)"/>
<ellipse cx="35" cy="222.8" rx="2.60" ry="2.60" fill="url(#hr)"/>
<ellipse cx="36.2" cy="234" rx="6.84" ry="8.23" fill="url(#hh)"/>
<ellipse cx="36.2" cy="234" rx="5.59" ry="6.97" fill="url(#hR)"/>
<ellipse cx="43.75" cy="232.5" rx="5.72" ry="11.88" fill="url(#hh)"/>
<ellipse cx="43.75" cy="232.5" rx="4.67" ry="10.07" fill="url(#hb)"/>
<ellipse cx="43.5" cy="226" rx="2.64" ry="2.56" fill="url(#hh)"/>
<ellipse cx="43.5" cy="226" rx="2.14" ry="2.14" fill="url(#hc)"/>
<ellipse cx="44" cy="232.5" rx="5.16" ry="6.07" fill="url(#hh)"/>
<ellipse cx="44" cy="232.5" rx="4.21" ry="5.13" fill="url(#hG)"/>
<ellipse cx="45.5" cy="231" rx="2.64" ry="2.56" fill="url(#hh)"/>
<ellipse cx="45.5" cy="231" rx="2.14" ry="2.14" fill="url(#hR)"/>
<ellipse cx="44" cy="235.8" rx="2.92" ry="2.83" fill="url(#hh)"/>
<ellipse cx="44" cy="235.8" rx="2.37" ry="2.37" fill="url(#hR)"/>
<ellipse cx="52.75" cy="233" rx="6.00" ry="10.53" fill="url(#hh)"/>
<ellipse cx="52.75" cy="233" rx="4.90" ry="8.93" fill="url(#hb)"/>
<ellipse cx="51.5" cy="225.5" rx="1.91" ry="1.91" fill="url(#hb)"/>
<ellipse cx="54" cy="225" rx="1.91" ry="1.91" fill="url(#hb)"/>
<ellipse cx="52.7" cy="223.5" rx="1.79" ry="1.79" fill="url(#hb)"/>
<ellipse cx="53" cy="237" rx="7.12" ry="5.80" fill="url(#hh)"/>
<ellipse cx="53" cy="237" rx="5.82" ry="4.90" fill="url(#hR)"/>
<ellipse cx="60.9" cy="231.5" rx="6.00" ry="12.55" fill="url(#hh)"/>
<ellipse cx="60.9" cy="231.5" rx="4.90" ry="10.65" fill="url(#hb)"/>
<ellipse cx="61.2" cy="233" rx="6.42" ry="8.77" fill="url(#hh)"/>
<ellipse cx="61.2" cy="233" rx="5.24" ry="7.43" fill="url(#hR)"/>
<ellipse cx="69.3" cy="235.5" rx="5.58" ry="9.18" fill="url(#hh)"/>
<ellipse cx="69.3" cy="235.5" rx="4.55" ry="7.77" fill="url(#hb)"/>
<ellipse cx="69.5" cy="235" rx="4.88" ry="5.53" fill="url(#hh)"/>
<ellipse cx="69.5" cy="235" rx="3.98" ry="4.67" fill="url(#hy)"/>
<ellipse cx="77.8" cy="235" rx="5.58" ry="9.18" fill="url(#hh)"/>
<ellipse cx="77.8" cy="235" rx="4.55" ry="7.77" fill="url(#hb)"/>
<ellipse cx="78.6" cy="226.5" rx="2.64" ry="2.56" fill="url(#hh)"/>
<ellipse cx="78.6" cy="226.5" rx="2.14" ry="2.14" fill="url(#hb)"/>
<ellipse cx="76" cy="236.5" rx="2.64" ry="2.56" fill="url(#hh)"/>
<ellipse cx="76" cy="236.5" rx="2.14" ry="2.14" fill="url(#hy)"/>
<ellipse cx="87.2" cy="234.5" rx="5.72" ry="9.85" fill="url(#hh)"/>
<ellipse cx="87.2" cy="234.5" rx="4.67" ry="8.35" fill="url(#hb)"/>
<ellipse cx="86.6" cy="234" rx="5.72" ry="4.86" fill="url(#hh)"/>
<ellipse cx="86.6" cy="234" rx="4.67" ry="4.09" fill="url(#hR)"/>
<ellipse cx="88" cy="240" rx="2.64" ry="2.56" fill="url(#hh)"/>
<ellipse cx="88" cy="240" rx="2.14" ry="2.14" fill="url(#hR)"/>
<ellipse cx="97.6" cy="226.4" rx="1.45" ry="1.45" fill="url(#hb)"/>
<ellipse cx="102" cy="229.5" rx="2.50" ry="2.43" fill="url(#hh)"/>
<ellipse cx="102" cy="229.5" rx="2.02" ry="2.02" fill="url(#hb)"/>
<ellipse cx="99.5" cy="232.6" rx="1.45" ry="1.45" fill="url(#hb)"/>
<ellipse cx="103.9" cy="235.1" rx="1.45" ry="1.45" fill="url(#hb)"/>
<ellipse cx="108.25" cy="231" rx="2.50" ry="2.43" fill="url(#hh)"/>
<ellipse cx="108.25" cy="231" rx="2.02" ry="2.02" fill="url(#hb)"/>
<ellipse cx="113.25" cy="234.5" rx="2.92" ry="5.13" fill="url(#hh)"/>
<ellipse cx="113.25" cy="234.5" rx="2.37" ry="4.32" fill="url(#hy)"/>
<ellipse cx="124.75" cy="235.1" rx="5.30" ry="5.13" fill="url(#hh)"/>
<ellipse cx="124.75" cy="235.1" rx="4.32" ry="4.32" fill="url(#hr)"/>
<ellipse cx="131.4" cy="232" rx="4.60" ry="4.45" fill="url(#hh)"/>
<ellipse cx="131.4" cy="232" rx="3.75" ry="3.75" fill="url(#hb)"/>
<ellipse cx="128.9" cy="235.75" rx="1.68" ry="1.68" fill="url(#hc)"/>
<ellipse cx="139.5" cy="227.6" rx="2.50" ry="2.43" fill="url(#hh)"/>
<ellipse cx="139.5" cy="227.6" rx="2.02" ry="2.02" fill="url(#hb)"/>
<ellipse cx="140.75" cy="234.5" rx="4.60" ry="4.45" fill="url(#hh)"/>
<ellipse cx="140.75" cy="234.5" rx="3.75" ry="3.75" fill="url(#hy)"/>
<ellipse cx="148.9" cy="225.1" rx="2.50" ry="2.43" fill="url(#hh)"/>
<ellipse cx="148.9" cy="225.1" rx="2.02" ry="2.02" fill="url(#hb)"/>
<ellipse cx="148.9" cy="237" rx="5.30" ry="3.10" fill="url(#hh)"/>
<ellipse cx="148.9" cy="237" rx="4.32" ry="2.60" fill="url(#hb)"/>
<rect x="168.1" y="35.6" width="3.0" height="65.20" fill="url(#cb)"/>
<line x1="171.1" y1="35.60" x2="171.9" y2="35.60" stroke="#aaa" stroke-width="0.3"/>
<line x1="171.1" y1="39.02" x2="171.9" y2="39.02" stroke="#aaa" stroke-width="0.3"/>
<line x1="171.1" y1="42.45" x2="171.9" y2="42.45" stroke="#aaa" stroke-width="0.3"/>
<line x1="171.1" y1="45.87" x2="171.9" y2="45.87" stroke="#aaa" stroke-width="0.3"/>
<line x1="171.1" y1="49.29" x2="171.9" y2="49.29" stroke="#aaa" stroke-width="0.3"/>
<line x1="171.1" y1="52.72" x2="171.9" y2="52.72" stroke="#aaa" stroke-width="0.3"/>
<line x1="171.1" y1="56.14" x2="171.9" y2="56.14" stroke="#aaa" stroke-width="0.3"/>
<line x1="171.1" y1="59.56" x2="171.9" y2="59.56" stroke="#aaa" stroke-width="0.3"/>
<line x1="171.1" y1="62.98" x2="171.9" y2="62.98" stroke="#aaa" stroke-width="0.3"/>
<line x1="171.1" y1="66.41" x2="171.9" y2="66.41" stroke="#aaa" stroke-width="0.3"/>
<line x1="171.1" y1="69.83" x2="171.9" y2="69.83" stroke="#aaa" stroke-width="0.3"/>
<line x1="171.1" y1="73.25" x2="171.9" y2="73.25" stroke="#aaa" stroke-width="0.3"/>
<line x1="171.1" y1="76.68" x2="171.9" y2="76.68" stroke="#aaa" stroke-width="0.3"/>
<line x1="171.1" y1="80.10" x2="171.9" y2="80.10" stroke="#aaa" stroke-width="0.3"/>
<line x1="171.1" y1="83.52" x2="171.9" y2="83.52" stroke="#aaa" stroke-width="0.3"/>
<line x1="171.1" y1="86.94" x2="171.9" y2="86.94" stroke="#aaa" stroke-width="0.3"/>
<line x1="171.1" y1="90.37" x2="171.9" y2="90.37" stroke="#aaa" stroke-width="0.3"/>
<line x1="171.1" y1="93.79" x2="171.9" y2="93.79" stroke="#aaa" stroke-width="0.3"/>
<line x1="171.1" y1="97.21" x2="171.9" y2="97.21" stroke="#aaa" stroke-width="0.3"/>
<line x1="171.1" y1="100.64" x2="171.9" y2="100.64" stroke="#aaa" stroke-width="0.3"/>
<text x="173.70" y="36.50" font-size="2.60" fill="#666" textLength="2.40" lengthAdjust="spacingAndGlyphs">1.0</text>
<text x="173.70" y="50.19" font-size="2.60" fill="#666" textLength="2.40" lengthAdjust="spacingAndGlyphs">0.8</text>
<text x="173.70" y="63.88" font-size="2.60" fill="#666" textLength="2.40" lengthAdjust="spacingAndGlyphs">0.6</text>
<text x="173.70" y="77.58" font-size="2.60" fill="#666" textLength="2.40" lengthAdjust="spacingAndGlyphs">0.4</text>
<text x="173.70" y="91.27" font-size="2.60" fill="#666" textLength="2.40" lengthAdjust="spacingAndGlyphs">0.2</text>
<text x="168.10" y="33.00" font-size="2.60" fill="#666" textLength="11.5" lengthAdjust="spacingAndGlyphs">Luminescence</text>
<text x="177.70" y="69.00" font-size="3.00" fill="#555" textLength="3.20" lengthAdjust="spacingAndGlyphs">x10</text>
<text x="181.00" y="67.60" font-size="2.20" fill="#555">4</text>
<text x="168.10" y="106.20" font-size="2.60" fill="#555" textLength="7.50" lengthAdjust="spacingAndGlyphs">Radiance</text>
<text x="168.10" y="108.70" font-size="2.60" fill="#555" textLength="11.50" lengthAdjust="spacingAndGlyphs">(p/sec/cm2/sr)</text>
<rect x="168.30" y="111.00" width="13.30" height="8.20" fill="none" stroke="#777" stroke-width="0.5"/>
<text x="169.20" y="114.00" font-size="2.60" fill="#555" textLength="7.00" lengthAdjust="spacingAndGlyphs">Color Scale</text>
<text x="169.20" y="116.20" font-size="2.60" fill="#555" textLength="11.00" lengthAdjust="spacingAndGlyphs">Min = 5.00e4</text>
<text x="169.20" y="118.40" font-size="2.60" fill="#555" textLength="11.00" lengthAdjust="spacingAndGlyphs">Max = 1.00e5</text>
<rect x="163.2" y="171.0" width="2.6" height="56.80" fill="url(#cb)"/>
<line x1="165.79999999999998" y1="171.00" x2="166.49599999999998" y2="171.00" stroke="#aaa" stroke-width="0.3"/>
<line x1="165.79999999999998" y1="173.98" x2="166.49599999999998" y2="173.98" stroke="#aaa" stroke-width="0.3"/>
<line x1="165.79999999999998" y1="176.96" x2="166.49599999999998" y2="176.96" stroke="#aaa" stroke-width="0.3"/>
<line x1="165.79999999999998" y1="179.95" x2="166.49599999999998" y2="179.95" stroke="#aaa" stroke-width="0.3"/>
<line x1="165.79999999999998" y1="182.93" x2="166.49599999999998" y2="182.93" stroke="#aaa" stroke-width="0.3"/>
<line x1="165.79999999999998" y1="185.91" x2="166.49599999999998" y2="185.91" stroke="#aaa" stroke-width="0.3"/>
<line x1="165.79999999999998" y1="188.89" x2="166.49599999999998" y2="188.89" stroke="#aaa" stroke-width="0.3"/>
<line x1="165.79999999999998" y1="191.87" x2="166.49599999999998" y2="191.87" stroke="#aaa" stroke-width="0.3"/>
<line x1="165.79999999999998" y1="194.86" x2="166.49599999999998" y2="194.86" stroke="#aaa" stroke-width="0.3"/>
<line x1="165.79999999999998" y1="197.84" x2="166.49599999999998" y2="197.84" stroke="#aaa" stroke-width="0.3"/>
<line x1="165.79999999999998" y1="200.82" x2="166.49599999999998" y2="200.82" stroke="#aaa" stroke-width="0.3"/>
<line x1="165.79999999999998" y1="203.80" x2="166.49599999999998" y2="203.80" stroke="#aaa" stroke-width="0.3"/>
<line x1="165.79999999999998" y1="206.78" x2="166.49599999999998" y2="206.78" stroke="#aaa" stroke-width="0.3"/>
<line x1="165.79999999999998" y1="209.77" x2="166.49599999999998" y2="209.77" stroke="#aaa" stroke-width="0.3"/>
<line x1="165.79999999999998" y1="212.75" x2="166.49599999999998" y2="212.75" stroke="#aaa" stroke-width="0.3"/>
<line x1="165.79999999999998" y1="215.73" x2="166.49599999999998" y2="215.73" stroke="#aaa" stroke-width="0.3"/>
<line x1="165.79999999999998" y1="218.71" x2="166.49599999999998" y2="218.71" stroke="#aaa" stroke-width="0.3"/>
<line x1="165.79999999999998" y1="221.69" x2="166.49599999999998" y2="221.69" stroke="#aaa" stroke-width="0.3"/>
<line x1="165.79999999999998" y1="224.68" x2="166.49599999999998" y2="224.68" stroke="#aaa" stroke-width="0.3"/>
<line x1="165.79999999999998" y1="227.66" x2="166.49599999999998" y2="227.66" stroke="#aaa" stroke-width="0.3"/>
<text x="168.06" y="171.78" font-size="2.26" fill="#666" textLength="2.09" lengthAdjust="spacingAndGlyphs">1.0</text>
<text x="168.06" y="183.71" font-size="2.26" fill="#666" textLength="2.09" lengthAdjust="spacingAndGlyphs">0.8</text>
<text x="168.06" y="195.64" font-size="2.26" fill="#666" textLength="2.09" lengthAdjust="spacingAndGlyphs">0.6</text>
<text x="168.06" y="207.57" font-size="2.26" fill="#666" textLength="2.09" lengthAdjust="spacingAndGlyphs">0.4</text>
<text x="168.06" y="219.50" font-size="2.26" fill="#666" textLength="2.09" lengthAdjust="spacingAndGlyphs">0.2</text>
<text x="163.20" y="168.74" font-size="2.26" fill="#666" textLength="10.0" lengthAdjust="spacingAndGlyphs">Luminescence</text>
<text x="171.55" y="200.23" font-size="2.61" fill="#555" textLength="2.78" lengthAdjust="spacingAndGlyphs">x10</text>
<text x="174.42" y="198.83" font-size="1.91" fill="#555">4</text>
<text x="163.20" y="232.50" font-size="2.26" fill="#555" textLength="6.53" lengthAdjust="spacingAndGlyphs">Radiance</text>
<text x="163.20" y="234.67" font-size="2.26" fill="#555" textLength="10.01" lengthAdjust="spacingAndGlyphs">(p/sec/cm2/sr)</text>
<rect x="163.40" y="236.67" width="11.57" height="7.13" fill="none" stroke="#777" stroke-width="0.5"/>
<text x="164.16" y="239.28" font-size="2.26" fill="#555" textLength="6.09" lengthAdjust="spacingAndGlyphs">Color Scale</text>
<text x="164.16" y="241.20" font-size="2.26" fill="#555" textLength="9.57" lengthAdjust="spacingAndGlyphs">Min = 5.00e4</text>
<text x="164.16" y="243.11" font-size="2.26" fill="#555" textLength="9.57" lengthAdjust="spacingAndGlyphs">Max = 1.00e5</text>
<text x="7.2" y="16.8" font-size="11" font-weight="bold" fill="#000"  stroke="#000" stroke-width="0.3">A</text>
<text x="197.5" y="16.8" font-size="11" font-weight="bold" fill="#000"  stroke="#000" stroke-width="0.3">B</text>
<text x="6.7" y="152.6" font-size="11" font-weight="bold" fill="#000"  stroke="#000" stroke-width="0.3">C</text>
<text x="184.6" y="152.6" font-size="11" font-weight="bold" fill="#000"  stroke="#000" stroke-width="0.3">D</text>
<text x="364.5" y="152.6" font-size="11" font-weight="bold" fill="#000"  stroke="#000" stroke-width="0.3">E</text>
<text x="14.9" y="33.9" font-size="8" textLength="13.4" lengthAdjust="spacingAndGlyphs" fill="#111"  stroke="#111" stroke-width="0.2">Day</text>
<text x="42.0" y="34.2" font-size="8" textLength="37.1" lengthAdjust="spacingAndGlyphs" fill="#111"  stroke="#111" stroke-width="0.2">VC treated</text>
<text x="110.9" y="33.9" font-size="8" textLength="37.2" lengthAdjust="spacingAndGlyphs" fill="#111"  stroke="#111" stroke-width="0.2">AQ treated</text>
<text x="14.6" y="162.5" font-size="8" textLength="13.4" lengthAdjust="spacingAndGlyphs" fill="#111"  stroke="#111" stroke-width="0.2">Day</text>
<text x="41.9" y="162.4" font-size="8" textLength="37.1" lengthAdjust="spacingAndGlyphs" fill="#111"  stroke="#111" stroke-width="0.2">VC treated</text>
<text x="102.9" y="162.2" font-size="8" textLength="37.2" lengthAdjust="spacingAndGlyphs" fill="#111"  stroke="#111" stroke-width="0.2">AQ treated</text>
<text x="28.5" y="52.0" font-size="8.3" text-anchor="end" fill="#111"  stroke="#111" stroke-width="0.12">16</text>
<text x="28.5" y="75.8" font-size="8.3" text-anchor="end" fill="#111"  stroke="#111" stroke-width="0.12">18</text>
<text x="28.5" y="104.8" font-size="8.3" text-anchor="end" fill="#111"  stroke="#111" stroke-width="0.12">21</text>
<text x="28.5" y="181.29999999999998" font-size="8.3" text-anchor="end" fill="#111"  stroke="#111" stroke-width="0.12">23</text>
<text x="28.5" y="205.79999999999998" font-size="8.3" text-anchor="end" fill="#111"  stroke="#111" stroke-width="0.12">32</text>
<text x="28.5" y="232.89999999999998" font-size="8.3" text-anchor="end" fill="#111"  stroke="#111" stroke-width="0.12">39</text>
<line x1="248.2" y1="26.3" x2="248.2" y2="99.2" stroke="#222" stroke-width="1.1"/>
<line x1="247.7" y1="98.8" x2="347" y2="98.8" stroke="#222" stroke-width="1.2"/>
<line x1="245.5" y1="26.8" x2="248.2" y2="26.8" stroke="#222" stroke-width="1.0"/>
<text x="242.4" y="29.3" font-size="7.6" text-anchor="end" fill="#111"  stroke="#111" stroke-width="0.1">4x10<tspan font-size="4.6" dy="-2.9">5</tspan></text>
<line x1="245.5" y1="44.8" x2="248.2" y2="44.8" stroke="#222" stroke-width="1.0"/>
<text x="242.4" y="47.3" font-size="7.6" text-anchor="end" fill="#111"  stroke="#111" stroke-width="0.1">3x10<tspan font-size="4.6" dy="-2.9">5</tspan></text>
<line x1="245.5" y1="62.8" x2="248.2" y2="62.8" stroke="#222" stroke-width="1.0"/>
<text x="242.4" y="65.3" font-size="7.6" text-anchor="end" fill="#111"  stroke="#111" stroke-width="0.1">2x10<tspan font-size="4.6" dy="-2.9">5</tspan></text>
<line x1="245.5" y1="80.8" x2="248.2" y2="80.8" stroke="#222" stroke-width="1.0"/>
<text x="242.4" y="83.3" font-size="7.6" text-anchor="end" fill="#111"  stroke="#111" stroke-width="0.1">1x10<tspan font-size="4.6" dy="-2.9">5</tspan></text>
<line x1="245.5" y1="98.8" x2="248.2" y2="98.8" stroke="#222" stroke-width="1.0"/>
<text x="242.4" y="101.4" font-size="7.6" text-anchor="end" fill="#111"  stroke="#111" stroke-width="0.1">0</text>
<line x1="261.5" y1="98.8" x2="261.5" y2="101.8" stroke="#222" stroke-width="1.0"/>
<text x="261.5" y="111.5" font-size="7.6" text-anchor="middle" fill="#111"  stroke="#111" stroke-width="0.1">10</text>
<line x1="294.6" y1="98.8" x2="294.6" y2="101.8" stroke="#222" stroke-width="1.0"/>
<text x="294.6" y="111.5" font-size="7.6" text-anchor="middle" fill="#111"  stroke="#111" stroke-width="0.1">15</text>
<line x1="327.3" y1="98.8" x2="327.3" y2="101.8" stroke="#222" stroke-width="1.0"/>
<text x="327.3" y="111.5" font-size="7.6" text-anchor="middle" fill="#111"  stroke="#111" stroke-width="0.1">20</text>
<text x="278.7" y="124.6" font-size="9" textLength="37.8" lengthAdjust="spacingAndGlyphs" fill="#111"  stroke="#111" stroke-width="0.3">Days elapsed</text>
<text transform="translate(216.6,100.1) rotate(-90)" font-size="8.6" textLength="9.7" lengthAdjust="spacingAndGlyphs" fill="#111" stroke="#111" stroke-width="0.28">Avg</text>
<text transform="translate(216.6,88.0) rotate(-90)" font-size="8.6" textLength="25.2" lengthAdjust="spacingAndGlyphs" fill="#111" stroke="#111" stroke-width="0.28">radiance</text>
<text transform="translate(216.6,60.1) rotate(-90)" font-size="8.4" textLength="36.3" lengthAdjust="spacingAndGlyphs" fill="#111" stroke="#111" stroke-width="0.18">[p/s/cm<tspan font-size="5.2" dy="-3.0">2</tspan><tspan dy="3.0">/sr]</tspan></text>
<line x1="254.2" y1="31.3" x2="259.9" y2="31.3" stroke="#3d5da8" stroke-width="0.9"/>
<line x1="254.2" y1="43.0" x2="259.9" y2="43.0" stroke="#c4283f" stroke-width="0.9"/>
<text x="262.7" y="33.8" font-size="7.3" textLength="44.8" lengthAdjust="spacingAndGlyphs" fill="#111"  stroke="#111" stroke-width="0.1">vehicle (<tspan font-style="italic">n</tspan>=5)</text>
<text x="262.7" y="45.4" font-size="7.3" textLength="59.8" lengthAdjust="spacingAndGlyphs" fill="#111"  stroke="#111" stroke-width="0.1">atovaquone (<tspan font-style="italic">n</tspan>=6)</text>
<line x1="314.4" y1="75.6" x2="314.4" y2="90.4" stroke="#222" stroke-width="0.9"/>
<line x1="313.29999999999995" y1="75.6" x2="315.5" y2="75.6" stroke="#222" stroke-width="0.8"/>
<line x1="313.29999999999995" y1="90.4" x2="315.5" y2="90.4" stroke="#222" stroke-width="0.8"/>
<line x1="334" y1="30.2" x2="334" y2="68.7" stroke="#222" stroke-width="0.9"/>
<line x1="332.9" y1="30.2" x2="335.1" y2="30.2" stroke="#222" stroke-width="0.8"/>
<line x1="332.9" y1="68.7" x2="335.1" y2="68.7" stroke="#222" stroke-width="0.8"/>
<line x1="334" y1="81.6" x2="334" y2="93.1" stroke="#222" stroke-width="0.9"/>
<line x1="332.9" y1="81.6" x2="335.1" y2="81.6" stroke="#222" stroke-width="0.8"/>
<line x1="332.9" y1="93.1" x2="335.1" y2="93.1" stroke="#222" stroke-width="0.8"/>
<line x1="314.4" y1="90.4" x2="314.4" y2="96.3" stroke="#222" stroke-width="0.9"/>
<line x1="313.29999999999995" y1="90.4" x2="315.5" y2="90.4" stroke="#222" stroke-width="0.8"/>
<line x1="313.29999999999995" y1="96.3" x2="315.5" y2="96.3" stroke="#222" stroke-width="0.8"/>
<polyline points="255.00,98.30 268.00,98.60 287.90,97.50 301.20,98.80 314.40,94.20 334.00,87.40" fill="none" stroke="#c4283f" stroke-width="1.1" stroke-linejoin="round"/>
<polyline points="255.00,97.50 268.00,98.30 287.90,96.30 301.20,95.50 314.40,82.90 334.00,50.30" fill="none" stroke="#3d5da8" stroke-width="1.1" stroke-linejoin="round"/>
<rect x="254.25" y="96.75" width="1.5" height="1.5" fill="#111"/>
<rect x="267.25" y="97.55" width="1.5" height="1.5" fill="#111"/>
<rect x="287.15" y="95.55" width="1.5" height="1.5" fill="#111"/>
<rect x="300.45" y="94.75" width="1.5" height="1.5" fill="#111"/>
<rect x="313.65" y="82.15" width="1.5" height="1.5" fill="#111"/>
<rect x="333.25" y="49.55" width="1.5" height="1.5" fill="#111"/>
<rect x="254.35" y="97.65" width="1.3" height="1.3" fill="#111"/>
<rect x="267.35" y="97.95" width="1.3" height="1.3" fill="#111"/>
<rect x="287.25" y="96.85" width="1.3" height="1.3" fill="#111"/>
<rect x="300.55" y="98.15" width="1.3" height="1.3" fill="#111"/>
<rect x="313.75" y="93.55" width="1.3" height="1.3" fill="#111"/>
<rect x="333.35" y="86.75" width="1.3" height="1.3" fill="#111"/>
<line x1="235.9" y1="159.8" x2="235.9" y2="246.3" stroke="#222" stroke-width="1.1"/>
<line x1="235.4" y1="243.2" x2="353.3" y2="243.2" stroke="#222" stroke-width="1.2"/>
<line x1="233.2" y1="162.4" x2="235.9" y2="162.4" stroke="#222" stroke-width="1.0"/>
<text x="229.9" y="165.1" font-size="7.6" text-anchor="end" fill="#111"  stroke="#111" stroke-width="0.1">8x10<tspan font-size="4.6" dy="-2.9">7</tspan></text>
<line x1="233.2" y1="182.6" x2="235.9" y2="182.6" stroke="#222" stroke-width="1.0"/>
<text x="229.9" y="185.29999999999998" font-size="7.6" text-anchor="end" fill="#111"  stroke="#111" stroke-width="0.1">6x10<tspan font-size="4.6" dy="-2.9">7</tspan></text>
<line x1="233.2" y1="202.8" x2="235.9" y2="202.8" stroke="#222" stroke-width="1.0"/>
<text x="229.9" y="205.5" font-size="7.6" text-anchor="end" fill="#111"  stroke="#111" stroke-width="0.1">4x10<tspan font-size="4.6" dy="-2.9">7</tspan></text>
<line x1="233.2" y1="223.0" x2="235.9" y2="223.0" stroke="#222" stroke-width="1.0"/>
<text x="229.9" y="225.7" font-size="7.6" text-anchor="end" fill="#111"  stroke="#111" stroke-width="0.1">2x10<tspan font-size="4.6" dy="-2.9">7</tspan></text>
<line x1="233.2" y1="243.2" x2="235.9" y2="243.2" stroke="#222" stroke-width="1.0"/>
<text x="229.9" y="245.9" font-size="7.6" text-anchor="end" fill="#111"  stroke="#111" stroke-width="0.1">0</text>
<line x1="235.9" y1="243.2" x2="235.9" y2="246.3" stroke="#222" stroke-width="1.0"/>
<text x="235.9" y="256.3" font-size="7.6" text-anchor="middle" fill="#111"  stroke="#111" stroke-width="0.1">20</text>
<line x1="273.9" y1="243.2" x2="273.9" y2="246.3" stroke="#222" stroke-width="1.0"/>
<text x="273.9" y="256.3" font-size="7.6" text-anchor="middle" fill="#111"  stroke="#111" stroke-width="0.1">30</text>
<line x1="312.3" y1="243.2" x2="312.3" y2="246.3" stroke="#222" stroke-width="1.0"/>
<text x="312.3" y="256.3" font-size="7.6" text-anchor="middle" fill="#111"  stroke="#111" stroke-width="0.1">40</text>
<line x1="350.6" y1="243.2" x2="350.6" y2="246.3" stroke="#222" stroke-width="1.0"/>
<text x="350.6" y="256.3" font-size="7.6" text-anchor="middle" fill="#111"  stroke="#111" stroke-width="0.1">50</text>
<text x="275.9" y="269.1" font-size="9" textLength="37.2" lengthAdjust="spacingAndGlyphs" fill="#111"  stroke="#111" stroke-width="0.3">Days elapsed</text>
<text transform="translate(204.5,239.6) rotate(-90)" font-size="8.6" textLength="9.7" lengthAdjust="spacingAndGlyphs" fill="#111" stroke="#111" stroke-width="0.28">Avg</text>
<text transform="translate(204.5,227.5) rotate(-90)" font-size="8.6" textLength="24.9" lengthAdjust="spacingAndGlyphs" fill="#111" stroke="#111" stroke-width="0.28">radiance</text>
<text transform="translate(204.5,200.3) rotate(-90)" font-size="8.4" textLength="36.1" lengthAdjust="spacingAndGlyphs" fill="#111" stroke="#111" stroke-width="0.18">[p/s/cm<tspan font-size="5.2" dy="-3.0">2</tspan><tspan dy="3.0">/sr]</tspan></text>
<line x1="239.0" y1="169.8" x2="244.5" y2="169.8" stroke="#3d5da8" stroke-width="0.9"/>
<line x1="239.0" y1="181.7" x2="244.5" y2="181.7" stroke="#c4283f" stroke-width="0.9"/>
<text x="247.2" y="172.5" font-size="7.3" textLength="70.8" lengthAdjust="spacingAndGlyphs" fill="#111"  stroke="#111" stroke-width="0.1">vehicle control (<tspan font-style="italic">n</tspan>=7)</text>
<text x="247.2" y="184.1" font-size="7.3" textLength="60.8" lengthAdjust="spacingAndGlyphs" fill="#111"  stroke="#111" stroke-width="0.1">atovaquone (<tspan font-style="italic">n</tspan>=7)</text>
<text x="243.6" y="195.5" font-size="7.3" textLength="33.0" lengthAdjust="spacingAndGlyphs" fill="#111"  stroke="#111" stroke-width="0.1">P=0.0069</text>
<line x1="327.52" y1="183" x2="327.52" y2="210.3" stroke="#222" stroke-width="0.9"/>
<line x1="326.41999999999996" y1="183" x2="328.62" y2="183" stroke="#222" stroke-width="0.8"/>
<line x1="326.41999999999996" y1="210.3" x2="328.62" y2="210.3" stroke="#222" stroke-width="0.8"/>
<line x1="335.18" y1="183" x2="335.18" y2="206.3" stroke="#222" stroke-width="0.9"/>
<line x1="334.08" y1="183" x2="336.28000000000003" y2="183" stroke="#222" stroke-width="0.8"/>
<line x1="334.08" y1="206.3" x2="336.28000000000003" y2="206.3" stroke="#222" stroke-width="0.8"/>
<line x1="319.86" y1="221.5" x2="319.86" y2="229" stroke="#222" stroke-width="0.9"/>
<line x1="318.76" y1="221.5" x2="320.96000000000004" y2="221.5" stroke="#222" stroke-width="0.8"/>
<line x1="318.76" y1="229" x2="320.96000000000004" y2="229" stroke="#222" stroke-width="0.8"/>
<line x1="300.71" y1="231.5" x2="300.71" y2="236.9" stroke="#222" stroke-width="0.9"/>
<line x1="299.60999999999996" y1="231.5" x2="301.81" y2="231.5" stroke="#222" stroke-width="0.8"/>
<line x1="299.60999999999996" y1="236.9" x2="301.81" y2="236.9" stroke="#222" stroke-width="0.8"/>
<line x1="308.37" y1="230.4" x2="308.37" y2="233.9" stroke="#222" stroke-width="0.9"/>
<line x1="307.27" y1="230.4" x2="309.47" y2="230.4" stroke="#222" stroke-width="0.8"/>
<line x1="307.27" y1="233.9" x2="309.47" y2="233.9" stroke="#222" stroke-width="0.8"/>
<line x1="319.86" y1="236" x2="319.86" y2="240.5" stroke="#222" stroke-width="0.9"/>
<line x1="318.76" y1="236" x2="320.96000000000004" y2="236" stroke="#222" stroke-width="0.8"/>
<line x1="318.76" y1="240.5" x2="320.96000000000004" y2="240.5" stroke="#222" stroke-width="0.8"/>
<line x1="327.52" y1="230" x2="327.52" y2="238.3" stroke="#222" stroke-width="0.9"/>
<line x1="326.41999999999996" y1="230" x2="328.62" y2="230" stroke="#222" stroke-width="0.8"/>
<line x1="326.41999999999996" y1="238.3" x2="328.62" y2="238.3" stroke="#222" stroke-width="0.8"/>
<line x1="335.18" y1="225" x2="335.18" y2="233.1" stroke="#222" stroke-width="0.9"/>
<line x1="334.08" y1="225" x2="336.28000000000003" y2="225" stroke="#222" stroke-width="0.8"/>
<line x1="334.08" y1="233.1" x2="336.28000000000003" y2="233.1" stroke="#222" stroke-width="0.8"/>
<line x1="300.71" y1="236" x2="300.71" y2="240.5" stroke="#222" stroke-width="0.9"/>
<line x1="299.60999999999996" y1="236" x2="301.81" y2="236" stroke="#222" stroke-width="0.8"/>
<line x1="299.60999999999996" y1="240.5" x2="301.81" y2="240.5" stroke="#222" stroke-width="0.8"/>
<polyline points="239.43,243.20 247.09,243.20 254.75,243.10 266.24,243.00 273.90,243.00 281.56,243.00 293.05,241.60 300.71,238.20 308.37,239.60 319.86,238.60 327.52,234.30 335.18,229.00" fill="none" stroke="#c4283f" stroke-width="1.1" stroke-linejoin="round"/>
<polyline points="239.43,243.00 247.09,243.00 254.75,242.80 266.24,242.50 273.90,242.00 281.56,241.60 293.05,237.70 300.71,233.90 308.37,232.10 319.86,225.00 327.52,196.80 335.18,195.20" fill="none" stroke="#3d5da8" stroke-width="1.1" stroke-linejoin="round"/>
<rect x="238.73" y="242.30" width="1.4" height="1.4" fill="#111"/>
<rect x="246.39" y="242.30" width="1.4" height="1.4" fill="#111"/>
<rect x="254.05" y="242.10" width="1.4" height="1.4" fill="#111"/>
<rect x="265.54" y="241.80" width="1.4" height="1.4" fill="#111"/>
<rect x="273.20" y="241.30" width="1.4" height="1.4" fill="#111"/>
<rect x="280.86" y="240.90" width="1.4" height="1.4" fill="#111"/>
<rect x="292.35" y="237.00" width="1.4" height="1.4" fill="#111"/>
<rect x="300.01" y="233.20" width="1.4" height="1.4" fill="#111"/>
<rect x="307.67" y="231.40" width="1.4" height="1.4" fill="#111"/>
<rect x="319.16" y="224.30" width="1.4" height="1.4" fill="#111"/>
<rect x="326.82" y="196.10" width="1.4" height="1.4" fill="#111"/>
<rect x="334.48" y="194.50" width="1.4" height="1.4" fill="#111"/>
<rect x="238.83" y="242.60" width="1.2" height="1.2" fill="#111"/>
<rect x="246.49" y="242.60" width="1.2" height="1.2" fill="#111"/>
<rect x="254.15" y="242.50" width="1.2" height="1.2" fill="#111"/>
<rect x="265.64" y="242.40" width="1.2" height="1.2" fill="#111"/>
<rect x="273.30" y="242.40" width="1.2" height="1.2" fill="#111"/>
<rect x="280.96" y="242.40" width="1.2" height="1.2" fill="#111"/>
<rect x="292.45" y="241.00" width="1.2" height="1.2" fill="#111"/>
<rect x="300.11" y="237.60" width="1.2" height="1.2" fill="#111"/>
<rect x="307.77" y="239.00" width="1.2" height="1.2" fill="#111"/>
<rect x="319.26" y="238.00" width="1.2" height="1.2" fill="#111"/>
<rect x="326.92" y="233.70" width="1.2" height="1.2" fill="#111"/>
<rect x="334.58" y="228.40" width="1.2" height="1.2" fill="#111"/>
<rect x="253.90" y="228.90" width="1.4" height="1.4" fill="#222"/>
<rect x="280.90" y="218.50" width="1.4" height="1.4" fill="#222"/>
<rect x="292.10" y="215.30" width="1.4" height="1.4" fill="#222"/>
<rect x="307.10" y="204.50" width="1.4" height="1.4" fill="#222"/>
<rect x="319.10" y="187.80" width="1.4" height="1.4" fill="#222"/>
<rect x="326.50" y="169.20" width="1.4" height="1.4" fill="#222"/>
<rect x="334.30" y="169.20" width="1.4" height="1.4" fill="#222"/>
<line x1="405.4" y1="155.6" x2="405.4" y2="225.8" stroke="#222" stroke-width="1.1"/>
<line x1="404.9" y1="222.5" x2="509" y2="222.5" stroke="#222" stroke-width="1.2"/>
<line x1="402.4" y1="161.9" x2="405.4" y2="161.9" stroke="#222" stroke-width="1.0"/>
<text x="399.4" y="164.20000000000002" font-size="7.6" text-anchor="end" fill="#111"  stroke="#111" stroke-width="0.1">100</text>
<line x1="402.4" y1="192.3" x2="405.4" y2="192.3" stroke="#222" stroke-width="1.0"/>
<text x="399.4" y="194.60000000000002" font-size="7.6" text-anchor="end" fill="#111"  stroke="#111" stroke-width="0.1">50</text>
<line x1="402.4" y1="222.5" x2="405.4" y2="222.5" stroke="#222" stroke-width="1.0"/>
<text x="399.4" y="224.8" font-size="7.6" text-anchor="end" fill="#111"  stroke="#111" stroke-width="0.1">0</text>
<line x1="405.4" y1="222.5" x2="405.4" y2="225.8" stroke="#222" stroke-width="1.0"/>
<text x="405.7" y="236.0" font-size="7.6" text-anchor="middle" fill="#111"  stroke="#111" stroke-width="0.1">0</text>
<line x1="425.5" y1="222.5" x2="425.5" y2="225.8" stroke="#222" stroke-width="1.0"/>
<text x="425.8" y="236.0" font-size="7.6" text-anchor="middle" fill="#111"  stroke="#111" stroke-width="0.1">20</text>
<line x1="445.59999999999997" y1="222.5" x2="445.59999999999997" y2="225.8" stroke="#222" stroke-width="1.0"/>
<text x="445.9" y="236.0" font-size="7.6" text-anchor="middle" fill="#111"  stroke="#111" stroke-width="0.1">40</text>
<line x1="465.7" y1="222.5" x2="465.7" y2="225.8" stroke="#222" stroke-width="1.0"/>
<text x="466.0" y="236.0" font-size="7.6" text-anchor="middle" fill="#111"  stroke="#111" stroke-width="0.1">60</text>
<line x1="485.79999999999995" y1="222.5" x2="485.79999999999995" y2="225.8" stroke="#222" stroke-width="1.0"/>
<text x="486.09999999999997" y="236.0" font-size="7.6" text-anchor="middle" fill="#111"  stroke="#111" stroke-width="0.1">80</text>
<line x1="505.9" y1="222.5" x2="505.9" y2="225.8" stroke="#222" stroke-width="1.0"/>
<text x="506.2" y="236.0" font-size="7.6" text-anchor="middle" fill="#111"  stroke="#111" stroke-width="0.1">100</text>
<text x="419.3" y="249.2" font-size="8.6" textLength="75.8" lengthAdjust="spacingAndGlyphs" fill="#111"  stroke="#111" stroke-width="0.25">Days from treatment start</text>
<text transform="translate(380.0,212.6) rotate(-90)" font-size="8.3" textLength="46.4" lengthAdjust="spacingAndGlyphs" fill="#111" stroke="#111" stroke-width="0.2">Percent survival</text>
<text x="410.6" y="218.5" font-size="7.3" textLength="56.0" lengthAdjust="spacingAndGlyphs" fill="#111"  stroke="#111" stroke-width="0.1">log-rank P=0.003</text>
<polyline points="405.40,161.90 466.00,161.90 466.00,179.30 467.40,179.30 467.40,187.60 467.40,205.00 471.60,205.00 471.60,222.50" fill="none" stroke="#6a85be" stroke-width="1.1" stroke-linejoin="round"/>
<polyline points="466.00,170.50 478.40,170.50 478.40,179.30 479.80,179.30 479.80,187.50 484.70,187.50 484.70,196.60 489.00,196.60 489.00,205.50 492.70,205.50 492.70,213.90 501.40,213.90 501.40,222.50" fill="none" stroke="#c83a58" stroke-width="1.1" stroke-linejoin="round"/>
<line x1="412.4" y1="261.9" x2="418.3" y2="261.9" stroke="#6a85be" stroke-width="1.0"/>
<line x1="415.4" y1="260.6" x2="415.4" y2="261.9" stroke="#333" stroke-width="0.8"/>
<line x1="453.8" y1="261.9" x2="459.4" y2="261.9" stroke="#c83a58" stroke-width="1.0"/>
<line x1="456.6" y1="260.6" x2="456.6" y2="261.9" stroke="#333" stroke-width="0.8"/>
<text x="421.0" y="264.2" font-size="7.7" textLength="24.6" lengthAdjust="spacingAndGlyphs" fill="#111"  stroke="#111" stroke-width="0.1">Vehicle</text>
<text x="462.1" y="264.2" font-size="7.7" textLength="40.8" lengthAdjust="spacingAndGlyphs" fill="#111"  stroke="#111" stroke-width="0.1">Atovaquone</text>
<rect x="0" y="0" width="520" height="1.3" fill="#111"/>
<rect x="0" y="0" width="1.1" height="279" fill="#111"/>
<rect x="518.6" y="0" width="1.4" height="279" fill="#111"/>
<rect x="0" y="277.6" width="520" height="1.4" fill="#111"/>
</svg>
</body></html>
